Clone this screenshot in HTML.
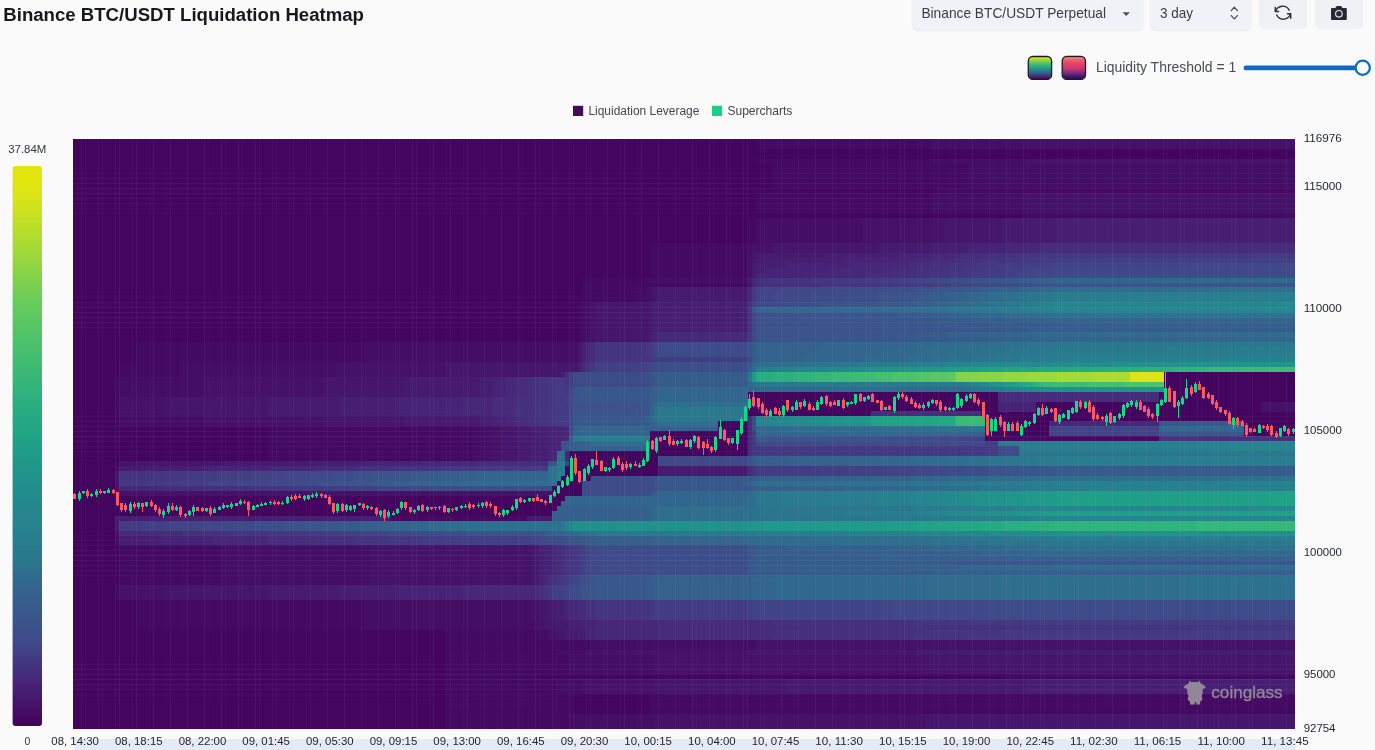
<!DOCTYPE html>
<html><head><meta charset="utf-8"><title>Binance BTC/USDT Liquidation Heatmap</title>
<style>html,body{margin:0;padding:0;background:#fafafa;overflow:hidden}svg{display:block;font-family:"Liberation Sans",sans-serif}text{opacity:0.995}</style></head><body>
<svg width="1375" height="750" viewBox="0 0 1375 750">
<rect width="1375" height="750" fill="#fafafa"/>
<defs>
<linearGradient id="cb" x1="0" y1="1" x2="0" y2="0">
<stop offset="0" stop-color="#44015b"/>
<stop offset="0.08" stop-color="#462678"/>
<stop offset="0.15" stop-color="#3f4a89"/>
<stop offset="0.24" stop-color="#34628d"/>
<stop offset="0.3" stop-color="#2a788e"/>
<stop offset="0.44" stop-color="#21918c"/>
<stop offset="0.51" stop-color="#20a187"/>
<stop offset="0.57" stop-color="#27ad81"/>
<stop offset="0.69" stop-color="#4ec36a"/>
<stop offset="0.76" stop-color="#69cc5b"/>
<stop offset="0.86" stop-color="#a9db33"/>
<stop offset="0.95" stop-color="#dde416"/>
<stop offset="0.97" stop-color="#e3e60e"/>
<stop offset="1" stop-color="#e3e60e"/>
</linearGradient>
<linearGradient id="sw1" x1="0" y1="0" x2="0" y2="1"><stop offset="0" stop-color="#f0ee22"/><stop offset="0.13" stop-color="#a5db36"/><stop offset="0.32" stop-color="#46c06f"/><stop offset="0.52" stop-color="#1f9a8a"/><stop offset="0.7" stop-color="#31688e"/><stop offset="0.86" stop-color="#472d7b"/><stop offset="1" stop-color="#440154"/></linearGradient>
<linearGradient id="sw2" x1="0" y1="0" x2="0" y2="1"><stop offset="0" stop-color="#f2d9a6"/><stop offset="0.1" stop-color="#ee6c6c"/><stop offset="0.3" stop-color="#e8436b"/><stop offset="0.52" stop-color="#c9386e"/><stop offset="0.72" stop-color="#7a2a80"/><stop offset="0.87" stop-color="#3d1a6a"/><stop offset="1" stop-color="#2a0a4a"/></linearGradient>
<filter id="sh" x="-5%" y="-20%" width="110%" height="150%"><feDropShadow dx="0" dy="1" stdDeviation="1" flood-color="#000" flood-opacity="0.12"/></filter>
</defs>
<text x="3.3" y="21" font-size="19.2" font-weight="700" fill="#16181d" textLength="360.7" lengthAdjust="spacingAndGlyphs">Binance BTC/USDT Liquidation Heatmap</text>
<rect x="913" y="-8" width="229.5" height="37.2" rx="5" fill="#eff2f7" filter="url(#sh)"/>
<text x="921.4" y="18.3" font-size="14.2" fill="#3a3d45" textLength="184.6" lengthAdjust="spacingAndGlyphs">Binance BTC/USDT Perpetual</text>
<path d="M1122.6 12.2h7.2l-3.6 3.8z" fill="#4a4d55"/>
<rect x="1151" y="-8" width="99.6" height="37.2" rx="5" fill="#eff2f7" filter="url(#sh)"/>
<text x="1160" y="18.3" font-size="14.2" fill="#3a3d45" textLength="33" lengthAdjust="spacingAndGlyphs">3 day</text>
<path d="M1231.2 10.6l3.1-3.3l3.1 3.3M1231.2 15.6l3.1 3.3l3.1-3.3" fill="none" stroke="#4a4d55" stroke-width="1.3" stroke-linecap="round" stroke-linejoin="round"/>
<rect x="1259.2" y="-8" width="47.6" height="37.2" rx="5" fill="#eff1f5"/>
<g fill="none" stroke="#2b2e36" stroke-width="1.45" stroke-linecap="round" stroke-linejoin="round"><path d="M1275.6 11.4a7.3 7.3 0 0 1 13.6-1.1"/><path d="M1290.4 13.9a7.3 7.3 0 0 1-13.6 1.1"/><path d="M1275.3 7.4v4.1h3.3"/><path d="M1287.5 13.8h3.2v4.4"/></g>
<rect x="1315.2" y="-8" width="47.6" height="37.2" rx="5" fill="#eff1f5"/>
<path d="M1332 8h3.3l0.9-1.4a1 1 0 0 1 0.8-0.5h3.800a1 1 0 0 1 0.800 0.500l0.900 1.400h3.300a1 1 0 0 1 1 1v9.900a1 1 0 0 1-1 1h-13.800a1 1 0 0 1-1-1v-9.900a1 1 0 0 1 1-1z" fill="#262931"/>
<circle cx="1338.9" cy="13.8" r="3.3" fill="none" stroke="#e9ebf2" stroke-width="1.1"/>
<rect x="1028.3" y="56.5" width="23.3" height="22.9" rx="4.5" fill="url(#sw1)" stroke="#1b1b22" stroke-width="1.3"/>
<rect x="1062.2" y="56.5" width="23.3" height="22.9" rx="4.5" fill="url(#sw2)" stroke="#1b1b22" stroke-width="1.3"/>
<text x="1095.9" y="72.3" font-size="14.2" fill="#494c55" textLength="140.3" lengthAdjust="spacingAndGlyphs">Liquidity Threshold = 1</text>
<rect x="1243.5" y="65.6" width="120" height="4.6" rx="2.3" fill="#0f68c4"/>
<circle cx="1362.7" cy="67.8" r="7.1" fill="#fff" stroke="#0f68c4" stroke-width="2.2"/>
<rect x="573" y="105.8" width="10.2" height="10.2" fill="#440b5c"/>
<text x="588.4" y="115.2" font-size="12.3" fill="#44474f" textLength="111" lengthAdjust="spacingAndGlyphs">Liquidation Leverage</text>
<rect x="712" y="105.8" width="10.2" height="10.2" fill="#1fce86"/>
<text x="727.4" y="115.2" font-size="12.3" fill="#44474f" textLength="65" lengthAdjust="spacingAndGlyphs">Supercharts</text>
<text x="8.2" y="153.2" font-size="11.3" fill="#33363d" textLength="38.2" lengthAdjust="spacingAndGlyphs">37.84M</text>
<rect x="12.6" y="166" width="29.4" height="560" rx="3" fill="url(#cb)"/>
<text x="24.4" y="745" font-size="11.3" fill="#33363d" textLength="5.8" lengthAdjust="spacingAndGlyphs">0</text>
<rect x="74.5" y="739" width="1221" height="12" fill="#e6eaf7"/>
<g shape-rendering="crispEdges">
<rect x="72.7" y="138.7" width="1222.5" height="590.2" fill="#44045e"/>
<path fill="#44055e" d="M72.7 138.7h683.46v5.01h-683.46zM72.7 143.66h683.46v5.01h-683.46zM72.7 148.62h1222.55v5.01h-1222.55zM72.7 153.58h1222.55v5.01h-1222.55zM72.7 158.54h683.46v5.01h-683.46zM72.7 163.5h700.44v5.01h-700.44zM72.7 168.46h700.44v5.01h-700.44zM72.7 173.42h700.44v5.01h-700.44zM72.7 178.38h700.44v5.01h-700.44zM72.7 183.34h700.44v5.01h-700.44zM72.7 188.3h865.99v5.01h-865.99zM72.7 193.26h683.46v5.01h-683.46zM72.7 198.22h683.46v5.01h-683.46zM72.7 203.18h683.46v5.01h-683.46zM72.7 208.14h683.46v5.01h-683.46zM72.7 213.09h950.88v5.01h-950.88zM72.7 218.05h674.97v5.01h-674.97zM72.7 223.01h674.97v5.01h-674.97zM72.7 227.97h674.97v5.01h-674.97zM72.7 232.93h674.97v5.01h-674.97zM72.7 237.89h674.97v5.01h-674.97zM72.7 242.85h577.34v5.01h-577.34zM72.7 247.81h577.34v5.01h-577.34zM72.7 252.77h577.34v5.01h-577.34zM72.7 257.73h577.34v5.01h-577.34zM72.7 262.69h577.34v5.01h-577.34zM72.7 267.65h577.34v5.01h-577.34zM72.7 272.61h577.34v5.01h-577.34zM72.7 277.57h509.43v5.01h-509.43zM72.7 282.53h509.43v5.01h-509.43zM72.7 287.49h509.43v5.01h-509.43zM72.7 292.45h509.43v5.01h-509.43zM72.7 297.41h509.43v5.01h-509.43zM72.7 302.37h505.18v5.01h-505.18zM72.7 307.33h505.18v5.01h-505.18zM72.7 312.29h505.18v5.01h-505.18zM72.7 317.25h505.18v5.01h-505.18zM72.7 322.21h505.18v5.01h-505.18zM72.7 327.17h505.18v5.01h-505.18zM72.7 332.13h505.18v5.01h-505.18zM72.7 337.09h505.18v5.01h-505.18zM72.7 342.05h63.72v5.01h-63.72zM72.7 347.01h63.72v5.01h-63.72zM72.7 351.97h63.72v5.01h-63.72zM72.7 356.93h63.72v5.01h-63.72zM72.7 361.88h46.74v5.01h-46.74zM72.7 366.84h46.74v5.01h-46.74zM72.7 371.8h46.74v5.01h-46.74zM1163.61 371.8h131.64v5.01h-131.64zM72.7 376.76h42.5v5.01h-42.5zM1163.61 376.76h131.64v5.01h-131.64zM72.7 381.72h42.5v5.01h-42.5zM1163.61 381.72h131.64v5.01h-131.64zM72.7 386.68h42.5v5.01h-42.5zM1163.61 386.68h131.64v5.01h-131.64zM72.7 391.64h42.5v5.01h-42.5zM747.62 391.64h250.49v5.01h-250.49zM1159.37 391.64h135.88v5.01h-135.88zM72.7 396.6h42.5v5.01h-42.5zM747.62 396.6h250.49v5.01h-250.49zM1159.37 396.6h135.88v5.01h-135.88zM72.7 401.56h42.5v5.01h-42.5zM747.62 401.56h250.49v5.01h-250.49zM1036.27 401.56h225.02v5.01h-225.02zM72.7 406.52h42.5v5.01h-42.5zM747.62 406.52h250.49v5.01h-250.49zM1036.27 406.52h225.02v5.01h-225.02zM72.7 411.48h42.5v5.01h-42.5zM747.62 411.48h123.15v5.01h-123.15zM981.09 411.48h314.16v5.01h-314.16zM72.7 416.44h42.5v5.01h-42.5zM985.33 416.44h309.92v5.01h-309.92zM72.7 421.4h42.5v5.01h-42.5zM717.91 421.4h29.76v5.01h-29.76zM985.33 421.4h63.72v5.01h-63.72zM1244.26 421.4h50.99v5.01h-50.99zM72.7 426.36h195.31v5.01h-195.31zM717.91 426.36h29.76v5.01h-29.76zM985.33 426.36h63.72v5.01h-63.72zM1244.26 426.36h50.99v5.01h-50.99zM72.7 431.32h195.31v5.01h-195.31zM649.99 431.32h97.68v5.01h-97.68zM985.33 431.32h63.72v5.01h-63.72zM1244.26 431.32h50.99v5.01h-50.99zM72.7 436.28h195.31v5.01h-195.31zM649.99 436.28h97.68v5.01h-97.68zM72.7 441.24h195.31v5.01h-195.31zM649.99 441.24h97.68v5.01h-97.68zM72.7 446.2h195.31v5.01h-195.31zM649.99 446.2h97.68v5.01h-97.68zM72.7 451.16h195.31v5.01h-195.31zM569.34 451.16h178.33v5.01h-178.33zM72.7 456.12h195.31v5.01h-195.31zM569.34 456.12h89.19v5.01h-89.19zM72.7 461.08h42.5v5.01h-42.5zM569.34 461.08h89.19v5.01h-89.19zM72.7 466.04h42.5v5.01h-42.5zM565.1 466.04h93.44v5.01h-93.44zM72.7 471h42.5v5.01h-42.5zM565.1 471h93.44v5.01h-93.44zM72.7 475.96h42.5v5.01h-42.5zM560.85 475.96h29.76v5.01h-29.76zM72.7 480.92h42.5v5.01h-42.5zM556.61 480.92h25.52v5.01h-25.52zM72.7 485.88h42.5v5.01h-42.5zM552.36 485.88h29.76v5.01h-29.76zM72.7 490.84h42.5v5.01h-42.5zM552.36 490.84h29.76v5.01h-29.76zM72.7 495.8h492.45v5.01h-492.45zM72.7 500.76h488.2v5.01h-488.2zM72.7 505.72h483.96v5.01h-483.96zM72.7 510.67h479.71v5.01h-479.71zM72.7 515.63h42.5v5.01h-42.5zM72.7 520.59h42.5v5.01h-42.5zM72.7 525.55h42.5v5.01h-42.5zM72.7 530.51h42.5v5.01h-42.5zM72.7 535.47h42.5v5.01h-42.5zM72.7 540.43h42.5v5.01h-42.5zM72.7 545.39h46.74v5.01h-46.74zM72.7 550.35h46.74v5.01h-46.74zM72.7 555.31h46.74v5.01h-46.74zM72.7 560.27h46.74v5.01h-46.74zM72.7 565.23h46.74v5.01h-46.74zM72.7 570.19h46.74v5.01h-46.74zM72.7 575.15h46.74v5.01h-46.74zM72.7 580.11h46.74v5.01h-46.74zM72.7 585.07h42.5v5.01h-42.5zM72.7 590.03h42.5v5.01h-42.5zM72.7 594.99h42.5v5.01h-42.5zM72.7 599.95h63.72v5.01h-63.72zM72.7 604.91h63.72v5.01h-63.72zM72.7 609.87h63.72v5.01h-63.72zM72.7 614.83h63.72v5.01h-63.72zM72.7 619.79h63.72v5.01h-63.72zM72.7 624.75h63.72v5.01h-63.72zM72.7 629.71h373.59v5.01h-373.59zM72.7 634.67h373.59v5.01h-373.59zM72.7 639.63h373.59v5.01h-373.59zM72.7 644.59h373.59v5.01h-373.59zM72.7 649.55h373.59v5.01h-373.59zM72.7 654.51h373.59v5.01h-373.59zM72.7 659.46h373.59v5.01h-373.59zM72.7 664.42h373.59v5.01h-373.59zM72.7 669.38h373.59v5.01h-373.59zM72.7 674.34h373.59v5.01h-373.59zM539.63 674.34h466.98v5.01h-466.98zM72.7 679.3h373.59v5.01h-373.59zM72.7 684.26h373.59v5.01h-373.59zM72.7 689.22h373.59v5.01h-373.59zM72.7 694.18h373.59v5.01h-373.59zM573.59 694.18h76.46v5.01h-76.46zM72.7 699.14h373.59v5.01h-373.59zM573.59 699.14h76.46v5.01h-76.46zM72.7 704.1h373.59v5.01h-373.59zM573.59 704.1h76.46v5.01h-76.46zM72.7 709.06h373.59v5.01h-373.59zM573.59 709.06h76.46v5.01h-76.46zM72.7 714.02h373.59v5.01h-373.59zM72.7 718.98h373.59v5.01h-373.59zM72.7 723.94h373.59v5.01h-373.59z"/>
<path fill="#440a62" d="M756.11 138.7h174.09v5.01h-174.09zM756.11 143.66h174.09v5.01h-174.09zM756.11 158.54h174.09v5.01h-174.09zM773.09 163.5h195.31v5.01h-195.31zM773.09 168.46h195.31v5.01h-195.31zM773.09 173.42h195.31v5.01h-195.31zM773.09 178.38h195.31v5.01h-195.31zM773.09 183.34h195.31v5.01h-195.31zM938.64 188.3h356.61v5.01h-356.61zM756.11 193.26h174.09v5.01h-174.09zM756.11 198.22h174.09v5.01h-174.09zM756.11 203.18h174.09v5.01h-174.09zM756.11 208.14h174.09v5.01h-174.09zM1023.53 213.09h271.72v5.01h-271.72zM747.62 218.05h8.54v5.01h-8.54zM747.62 223.01h8.54v5.01h-8.54zM747.62 227.97h8.54v5.01h-8.54zM747.62 232.93h8.54v5.01h-8.54zM747.62 237.89h8.54v5.01h-8.54zM649.99 242.85h97.68v5.01h-97.68zM649.99 247.81h97.68v5.01h-97.68zM649.99 252.77h97.68v5.01h-97.68zM649.99 257.73h97.68v5.01h-97.68zM649.99 262.69h97.68v5.01h-97.68zM649.99 267.65h97.68v5.01h-97.68zM649.99 272.61h97.68v5.01h-97.68zM582.08 277.57h63.72v5.01h-63.72zM582.08 282.53h165.6v5.01h-165.6zM582.08 287.49h63.72v5.01h-63.72zM582.08 292.45h63.72v5.01h-63.72zM582.08 297.41h63.72v5.01h-63.72zM577.83 302.37h4.29v5.01h-4.29zM577.83 307.33h4.29v5.01h-4.29zM577.83 312.29h4.29v5.01h-4.29zM577.83 317.25h4.29v5.01h-4.29zM577.83 322.21h4.29v5.01h-4.29zM577.83 327.17h4.29v5.01h-4.29zM577.83 332.13h4.29v5.01h-4.29zM577.83 337.09h4.29v5.01h-4.29zM136.37 342.05h229.27v5.01h-229.27zM136.37 347.01h229.27v5.01h-229.27zM136.37 351.97h229.27v5.01h-229.27zM136.37 356.93h229.27v5.01h-229.27zM119.39 361.88h59.48v5.01h-59.48zM119.39 366.84h59.48v5.01h-59.48zM119.39 371.8h59.48v5.01h-59.48zM115.15 376.76h4.29v5.01h-4.29zM115.15 381.72h4.29v5.01h-4.29zM115.15 386.68h4.29v5.01h-4.29zM115.15 391.64h4.29v5.01h-4.29zM115.15 396.6h4.29v5.01h-4.29zM115.15 401.56h4.29v5.01h-4.29zM115.15 406.52h4.29v5.01h-4.29zM115.15 411.48h4.29v5.01h-4.29zM115.15 416.44h4.29v5.01h-4.29zM115.15 421.4h4.29v5.01h-4.29zM267.96 426.36h203.8v5.01h-203.8zM267.96 431.32h203.8v5.01h-203.8zM267.96 436.28h203.8v5.01h-203.8zM985.33 436.28h174.09v5.01h-174.09zM267.96 441.24h203.8v5.01h-203.8zM267.96 446.2h203.8v5.01h-203.8zM267.96 451.16h203.8v5.01h-203.8zM267.96 456.12h203.8v5.01h-203.8zM115.15 461.08h4.29v5.01h-4.29zM391.06 515.63h135.88v5.01h-135.88zM119.39 545.39h101.92v5.01h-101.92zM119.39 550.35h101.92v5.01h-101.92zM119.39 555.31h101.92v5.01h-101.92zM119.39 560.27h101.92v5.01h-101.92zM119.39 565.23h101.92v5.01h-101.92zM119.39 570.19h101.92v5.01h-101.92zM119.39 575.15h101.92v5.01h-101.92zM119.39 580.11h101.92v5.01h-101.92zM115.15 585.07h4.29v5.01h-4.29zM115.15 590.03h4.29v5.01h-4.29zM115.15 594.99h4.29v5.01h-4.29zM136.37 599.95h229.27v5.01h-229.27zM136.37 604.91h229.27v5.01h-229.27zM136.37 609.87h229.27v5.01h-229.27zM136.37 614.83h229.27v5.01h-229.27zM136.37 619.79h229.27v5.01h-229.27zM136.37 624.75h229.27v5.01h-229.27zM446.24 629.71h93.44v5.01h-93.44zM446.24 634.67h93.44v5.01h-93.44zM446.24 639.63h144.37v5.01h-144.37zM446.24 644.59h144.37v5.01h-144.37zM446.24 649.55h110.41v5.01h-110.41zM446.24 654.51h123.15v5.01h-123.15zM446.24 659.46h123.15v5.01h-123.15zM446.24 664.42h123.15v5.01h-123.15zM446.24 669.38h123.15v5.01h-123.15zM446.24 674.34h93.44v5.01h-93.44zM1006.55 674.34h288.7v5.01h-288.7zM446.24 679.3h110.41v5.01h-110.41zM446.24 684.26h110.41v5.01h-110.41zM446.24 689.22h110.41v5.01h-110.41zM446.24 694.18h127.39v5.01h-127.39zM649.99 694.18h645.26v5.01h-645.26zM446.24 699.14h127.39v5.01h-127.39zM649.99 699.14h645.26v5.01h-645.26zM446.24 704.1h127.39v5.01h-127.39zM649.99 704.1h645.26v5.01h-645.26zM446.24 709.06h127.39v5.01h-127.39zM649.99 709.06h645.26v5.01h-645.26zM446.24 714.02h123.15v5.01h-123.15zM446.24 718.98h123.15v5.01h-123.15zM446.24 723.94h123.15v5.01h-123.15z"/>
<path fill="#450e65" d="M930.15 138.7h93.44v5.01h-93.44zM930.15 143.66h93.44v5.01h-93.44zM930.15 158.54h93.44v5.01h-93.44zM968.35 163.5h326.9v5.01h-326.9zM968.35 168.46h326.9v5.01h-326.9zM968.35 173.42h326.9v5.01h-326.9zM968.35 178.38h326.9v5.01h-326.9zM968.35 183.34h326.9v5.01h-326.9zM930.15 193.26h93.44v5.01h-93.44zM930.15 198.22h93.44v5.01h-93.44zM930.15 203.18h93.44v5.01h-93.44zM930.15 208.14h93.44v5.01h-93.44zM756.11 218.05h106.17v5.01h-106.17zM756.11 223.01h106.17v5.01h-106.17zM756.11 227.97h106.17v5.01h-106.17zM756.11 232.93h106.17v5.01h-106.17zM756.11 237.89h106.17v5.01h-106.17zM747.62 242.85h4.29v5.01h-4.29zM747.62 247.81h4.29v5.01h-4.29zM645.75 277.57h101.92v5.01h-101.92zM645.75 287.49h4.29v5.01h-4.29zM645.75 292.45h4.29v5.01h-4.29zM645.75 297.41h4.29v5.01h-4.29zM582.08 302.37h8.54v5.01h-8.54zM582.08 307.33h8.54v5.01h-8.54zM582.08 312.29h8.54v5.01h-8.54zM582.08 317.25h8.54v5.01h-8.54zM582.08 322.21h8.54v5.01h-8.54zM582.08 327.17h8.54v5.01h-8.54zM582.08 332.13h8.54v5.01h-8.54zM582.08 337.09h8.54v5.01h-8.54zM365.59 342.05h212.29v5.01h-212.29zM365.59 347.01h212.29v5.01h-212.29zM365.59 351.97h212.29v5.01h-212.29zM365.59 356.93h212.29v5.01h-212.29zM178.82 361.88h157.11v5.01h-157.11zM178.82 366.84h157.11v5.01h-157.11zM178.82 371.8h157.11v5.01h-157.11zM119.39 376.76h84.95v5.01h-84.95zM119.39 381.72h84.95v5.01h-84.95zM119.39 386.68h84.95v5.01h-84.95zM119.39 391.64h84.95v5.01h-84.95zM119.39 416.44h84.95v5.01h-84.95zM119.39 421.4h84.95v5.01h-84.95zM471.71 426.36h17.03v5.01h-17.03zM471.71 431.32h17.03v5.01h-17.03zM471.71 436.28h17.03v5.01h-17.03zM471.71 441.24h17.03v5.01h-17.03zM471.71 446.2h17.03v5.01h-17.03zM471.71 451.16h17.03v5.01h-17.03zM471.71 456.12h17.03v5.01h-17.03zM115.15 466.04h4.29v5.01h-4.29zM115.15 535.47h4.29v5.01h-4.29zM115.15 540.43h4.29v5.01h-4.29zM221.27 545.39h148.62v5.01h-148.62zM221.27 550.35h148.62v5.01h-148.62zM221.27 555.31h148.62v5.01h-148.62zM221.27 560.27h148.62v5.01h-148.62zM221.27 565.23h148.62v5.01h-148.62zM221.27 570.19h148.62v5.01h-148.62zM221.27 575.15h148.62v5.01h-148.62zM221.27 580.11h148.62v5.01h-148.62zM365.59 599.95h165.6v5.01h-165.6zM365.59 604.91h165.6v5.01h-165.6zM365.59 609.87h165.6v5.01h-165.6zM365.59 614.83h165.6v5.01h-165.6zM365.59 619.79h169.84v5.01h-169.84zM365.59 624.75h169.84v5.01h-169.84zM539.63 629.71h8.54v5.01h-8.54zM539.63 634.67h8.54v5.01h-8.54zM590.56 639.63h165.6v5.01h-165.6zM590.56 644.59h165.6v5.01h-165.6zM556.61 649.55h29.76v5.01h-29.76zM569.34 654.51h84.95v5.01h-84.95zM569.34 659.46h84.95v5.01h-84.95zM569.34 664.42h84.95v5.01h-84.95zM569.34 669.38h84.95v5.01h-84.95zM556.61 679.3h25.52v5.01h-25.52zM556.61 684.26h25.52v5.01h-25.52zM556.61 689.22h25.52v5.01h-25.52zM569.34 714.02h84.95v5.01h-84.95zM569.34 718.98h84.95v5.01h-84.95zM569.34 723.94h84.95v5.01h-84.95z"/>
<path fill="#451268" d="M1023.53 138.7h271.72v5.01h-271.72zM1023.53 143.66h271.72v5.01h-271.72zM1023.53 158.54h271.72v5.01h-271.72zM1023.53 193.26h271.72v5.01h-271.72zM1023.53 198.22h271.72v5.01h-271.72zM1023.53 203.18h271.72v5.01h-271.72zM1023.53 208.14h271.72v5.01h-271.72zM862.23 218.05h80.7v5.01h-80.7zM862.23 223.01h80.7v5.01h-80.7zM862.23 227.97h80.7v5.01h-80.7zM862.23 232.93h80.7v5.01h-80.7zM862.23 237.89h80.7v5.01h-80.7zM751.87 242.85h21.27v5.01h-21.27zM751.87 247.81h21.27v5.01h-21.27zM747.62 252.77h4.29v5.01h-4.29zM747.62 257.73h4.29v5.01h-4.29zM747.62 262.69h4.29v5.01h-4.29zM747.62 267.65h4.29v5.01h-4.29zM747.62 272.61h4.29v5.01h-4.29zM649.99 287.49h4.29v5.01h-4.29zM649.99 292.45h4.29v5.01h-4.29zM649.99 297.41h4.29v5.01h-4.29zM590.56 302.37h4.29v5.01h-4.29zM590.56 307.33h4.29v5.01h-4.29zM590.56 312.29h4.29v5.01h-4.29zM590.56 317.25h4.29v5.01h-4.29zM590.56 322.21h4.29v5.01h-4.29zM590.56 327.17h4.29v5.01h-4.29zM590.56 332.13h4.29v5.01h-4.29zM590.56 337.09h4.29v5.01h-4.29zM335.88 361.88h110.41v5.01h-110.41zM335.88 366.84h110.41v5.01h-110.41zM335.88 371.8h110.41v5.01h-110.41zM204.29 376.76h118.9v5.01h-118.9zM204.29 381.72h118.9v5.01h-118.9zM204.29 386.68h118.9v5.01h-118.9zM204.29 391.64h118.9v5.01h-118.9zM119.39 396.6h50.99v5.01h-50.99zM119.39 401.56h50.99v5.01h-50.99zM1261.24 401.56h34.01v5.01h-34.01zM119.39 406.52h50.99v5.01h-50.99zM1261.24 406.52h34.01v5.01h-34.01zM119.39 411.48h50.99v5.01h-50.99zM204.29 416.44h118.9v5.01h-118.9zM204.29 421.4h118.9v5.01h-118.9zM488.69 426.36h12.78v5.01h-12.78zM488.69 431.32h12.78v5.01h-12.78zM488.69 436.28h12.78v5.01h-12.78zM488.69 441.24h12.78v5.01h-12.78zM488.69 446.2h12.78v5.01h-12.78zM488.69 451.16h12.78v5.01h-12.78zM488.69 456.12h12.78v5.01h-12.78zM119.39 461.08h17.03v5.01h-17.03zM115.15 485.88h4.29v5.01h-4.29zM115.15 490.84h437.26v5.01h-437.26zM115.15 530.51h4.29v5.01h-4.29zM369.84 545.39h161.35v5.01h-161.35zM369.84 550.35h161.35v5.01h-161.35zM369.84 555.31h161.35v5.01h-161.35zM369.84 560.27h161.35v5.01h-161.35zM369.84 565.23h161.35v5.01h-161.35zM369.84 570.19h161.35v5.01h-161.35zM369.84 575.15h161.35v5.01h-161.35zM369.84 580.11h161.35v5.01h-161.35zM119.39 585.07h50.99v5.01h-50.99zM119.39 590.03h50.99v5.01h-50.99zM119.39 594.99h50.99v5.01h-50.99zM531.14 599.95h8.54v5.01h-8.54zM531.14 604.91h8.54v5.01h-8.54zM531.14 609.87h8.54v5.01h-8.54zM531.14 614.83h8.54v5.01h-8.54zM535.38 619.79h8.54v5.01h-8.54zM535.38 624.75h8.54v5.01h-8.54zM548.12 629.71h8.54v5.01h-8.54zM548.12 634.67h8.54v5.01h-8.54zM756.11 639.63h539.14v5.01h-539.14zM756.11 644.59h539.14v5.01h-539.14zM586.32 649.55h161.35v5.01h-161.35zM654.24 654.51h271.72v5.01h-271.72zM654.24 659.46h271.72v5.01h-271.72zM654.24 664.42h271.72v5.01h-271.72zM654.24 669.38h271.72v5.01h-271.72zM582.08 679.3h72.21v5.01h-72.21zM582.08 684.26h72.21v5.01h-72.21zM582.08 689.22h72.21v5.01h-72.21zM654.24 714.02h271.72v5.01h-271.72zM654.24 718.98h271.72v5.01h-271.72zM654.24 723.94h271.72v5.01h-271.72z"/>
<path fill="#45166c" d="M942.88 218.05h59.48v5.01h-59.48zM942.88 223.01h59.48v5.01h-59.48zM942.88 227.97h59.48v5.01h-59.48zM942.88 232.93h59.48v5.01h-59.48zM942.88 237.89h59.48v5.01h-59.48zM773.09 242.85h106.17v5.01h-106.17zM773.09 247.81h106.17v5.01h-106.17zM751.87 252.77h4.29v5.01h-4.29zM751.87 257.73h4.29v5.01h-4.29zM747.62 282.53h4.29v5.01h-4.29zM654.24 287.49h4.29v5.01h-4.29zM654.24 292.45h4.29v5.01h-4.29zM654.24 297.41h4.29v5.01h-4.29zM594.81 302.37h55.23v5.01h-55.23zM594.81 307.33h55.23v5.01h-55.23zM594.81 312.29h55.23v5.01h-55.23zM594.81 317.25h55.23v5.01h-55.23zM594.81 322.21h55.23v5.01h-55.23zM594.81 327.17h55.23v5.01h-55.23zM594.81 332.13h55.23v5.01h-55.23zM594.81 337.09h55.23v5.01h-55.23zM577.83 342.05h4.29v5.01h-4.29zM577.83 347.01h4.29v5.01h-4.29zM577.83 351.97h4.29v5.01h-4.29zM577.83 356.93h4.29v5.01h-4.29zM446.24 361.88h131.64v5.01h-131.64zM446.24 366.84h131.64v5.01h-131.64zM446.24 371.8h114.66v5.01h-114.66zM323.14 376.76h80.7v5.01h-80.7zM323.14 381.72h80.7v5.01h-80.7zM323.14 386.68h80.7v5.01h-80.7zM323.14 391.64h80.7v5.01h-80.7zM170.33 396.6h97.68v5.01h-97.68zM170.33 401.56h97.68v5.01h-97.68zM170.33 406.52h97.68v5.01h-97.68zM170.33 411.48h97.68v5.01h-97.68zM323.14 416.44h80.7v5.01h-80.7zM323.14 421.4h80.7v5.01h-80.7zM501.42 426.36h17.03v5.01h-17.03zM501.42 431.32h17.03v5.01h-17.03zM501.42 436.28h17.03v5.01h-17.03zM501.42 441.24h17.03v5.01h-17.03zM501.42 446.2h17.03v5.01h-17.03zM501.42 451.16h17.03v5.01h-17.03zM501.42 456.12h17.03v5.01h-17.03zM136.37 461.08h89.19v5.01h-89.19zM115.15 471h4.29v5.01h-4.29zM115.15 475.96h4.29v5.01h-4.29zM115.15 480.92h4.29v5.01h-4.29zM531.14 545.39h4.29v5.01h-4.29zM531.14 550.35h4.29v5.01h-4.29zM531.14 555.31h4.29v5.01h-4.29zM531.14 560.27h4.29v5.01h-4.29zM531.14 565.23h4.29v5.01h-4.29zM531.14 570.19h4.29v5.01h-4.29zM531.14 575.15h4.29v5.01h-4.29zM531.14 580.11h4.29v5.01h-4.29zM170.33 585.07h97.68v5.01h-97.68zM170.33 590.03h97.68v5.01h-97.68zM170.33 594.99h97.68v5.01h-97.68zM539.63 599.95h8.54v5.01h-8.54zM539.63 604.91h8.54v5.01h-8.54zM539.63 609.87h8.54v5.01h-8.54zM539.63 614.83h8.54v5.01h-8.54zM543.87 619.79h12.78v5.01h-12.78zM543.87 624.75h12.78v5.01h-12.78zM556.61 629.71h8.54v5.01h-8.54zM556.61 634.67h8.54v5.01h-8.54zM747.62 649.55h169.84v5.01h-169.84zM925.9 654.51h369.35v5.01h-369.35zM925.9 659.46h369.35v5.01h-369.35zM925.9 664.42h369.35v5.01h-369.35zM925.9 669.38h369.35v5.01h-369.35zM654.24 679.3h131.64v5.01h-131.64zM654.24 684.26h131.64v5.01h-131.64zM654.24 689.22h131.64v5.01h-131.64zM925.9 714.02h369.35v5.01h-369.35zM925.9 718.98h369.35v5.01h-369.35zM925.9 723.94h369.35v5.01h-369.35z"/>
<path fill="#461a6f" d="M1002.31 218.05h55.23v5.01h-55.23zM1002.31 223.01h55.23v5.01h-55.23zM1002.31 227.97h55.23v5.01h-55.23zM1002.31 232.93h55.23v5.01h-55.23zM1002.31 237.89h55.23v5.01h-55.23zM879.21 242.85h50.99v5.01h-50.99zM879.21 247.81h50.99v5.01h-50.99zM756.11 252.77h67.97v5.01h-67.97zM756.11 257.73h8.54v5.01h-8.54zM751.87 262.69h4.29v5.01h-4.29zM751.87 267.65h4.29v5.01h-4.29zM751.87 272.61h4.29v5.01h-4.29zM747.62 277.57h4.29v5.01h-4.29zM658.48 287.49h89.19v5.01h-89.19zM658.48 292.45h89.19v5.01h-89.19zM658.48 297.41h89.19v5.01h-89.19zM649.99 302.37h4.29v5.01h-4.29zM649.99 307.33h4.29v5.01h-4.29zM649.99 312.29h4.29v5.01h-4.29zM649.99 317.25h4.29v5.01h-4.29zM649.99 322.21h4.29v5.01h-4.29zM649.99 327.17h4.29v5.01h-4.29zM403.79 376.76h76.46v5.01h-76.46zM403.79 381.72h76.46v5.01h-76.46zM403.79 386.68h76.46v5.01h-76.46zM403.79 391.64h76.46v5.01h-76.46zM267.96 396.6h72.21v5.01h-72.21zM267.96 401.56h72.21v5.01h-72.21zM267.96 406.52h72.21v5.01h-72.21zM267.96 411.48h72.21v5.01h-72.21zM403.79 416.44h76.46v5.01h-76.46zM403.79 421.4h76.46v5.01h-76.46zM518.4 426.36h12.78v5.01h-12.78zM518.4 431.32h12.78v5.01h-12.78zM518.4 436.28h12.78v5.01h-12.78zM518.4 441.24h12.78v5.01h-12.78zM518.4 446.2h12.78v5.01h-12.78zM518.4 451.16h12.78v5.01h-12.78zM518.4 456.12h12.78v5.01h-12.78zM225.51 461.08h84.95v5.01h-84.95zM119.39 466.04h21.27v5.01h-21.27zM658.48 466.04h89.19v5.01h-89.19zM658.48 471h89.19v5.01h-89.19zM526.89 515.63h25.52v5.01h-25.52zM115.15 520.59h4.29v5.01h-4.29zM115.15 525.55h4.29v5.01h-4.29zM535.38 545.39h4.29v5.01h-4.29zM535.38 550.35h4.29v5.01h-4.29zM535.38 555.31h4.29v5.01h-4.29zM535.38 560.27h4.29v5.01h-4.29zM535.38 565.23h4.29v5.01h-4.29zM535.38 570.19h4.29v5.01h-4.29zM535.38 575.15h4.29v5.01h-4.29zM535.38 580.11h4.29v5.01h-4.29zM267.96 585.07h72.21v5.01h-72.21zM267.96 590.03h72.21v5.01h-72.21zM267.96 594.99h72.21v5.01h-72.21zM548.12 599.95h8.54v5.01h-8.54zM548.12 604.91h8.54v5.01h-8.54zM548.12 609.87h8.54v5.01h-8.54zM548.12 614.83h8.54v5.01h-8.54zM556.61 619.79h12.78v5.01h-12.78zM556.61 624.75h12.78v5.01h-12.78zM565.1 629.71h12.78v5.01h-12.78zM565.1 634.67h12.78v5.01h-12.78zM917.41 649.55h377.84v5.01h-377.84zM785.83 679.3h242v5.01h-242zM785.83 684.26h242v5.01h-242zM785.83 689.22h242v5.01h-242z"/>
<path fill="#461f72" d="M1057.49 218.05h237.76v5.01h-237.76zM1057.49 223.01h237.76v5.01h-237.76zM1057.49 227.97h237.76v5.01h-237.76zM1057.49 232.93h237.76v5.01h-237.76zM1057.49 237.89h237.76v5.01h-237.76zM930.15 242.85h38.25v5.01h-38.25zM930.15 247.81h38.25v5.01h-38.25zM824.03 252.77h76.46v5.01h-76.46zM764.6 257.73h76.46v5.01h-76.46zM756.11 262.69h29.76v5.01h-29.76zM756.11 267.65h8.54v5.01h-8.54zM654.24 302.37h93.44v5.01h-93.44zM654.24 307.33h93.44v5.01h-93.44zM654.24 312.29h93.44v5.01h-93.44zM654.24 317.25h93.44v5.01h-93.44zM654.24 322.21h93.44v5.01h-93.44zM654.24 327.17h93.44v5.01h-93.44zM649.99 332.13h4.29v5.01h-4.29zM649.99 337.09h4.29v5.01h-4.29zM582.08 342.05h4.29v5.01h-4.29zM582.08 347.01h4.29v5.01h-4.29zM582.08 351.97h4.29v5.01h-4.29zM582.08 356.93h4.29v5.01h-4.29zM577.83 361.88h4.29v5.01h-4.29zM577.83 366.84h4.29v5.01h-4.29zM560.85 371.8h4.29v5.01h-4.29zM480.2 376.76h12.78v5.01h-12.78zM480.2 381.72h12.78v5.01h-12.78zM480.2 386.68h12.78v5.01h-12.78zM480.2 391.64h12.78v5.01h-12.78zM340.12 396.6h59.48v5.01h-59.48zM340.12 401.56h59.48v5.01h-59.48zM340.12 406.52h59.48v5.01h-59.48zM340.12 411.48h59.48v5.01h-59.48zM480.2 416.44h12.78v5.01h-12.78zM480.2 421.4h12.78v5.01h-12.78zM531.14 426.36h17.03v5.01h-17.03zM531.14 431.32h17.03v5.01h-17.03zM531.14 436.28h17.03v5.01h-17.03zM531.14 441.24h17.03v5.01h-17.03zM531.14 446.2h17.03v5.01h-17.03zM531.14 451.16h17.03v5.01h-17.03zM531.14 456.12h17.03v5.01h-17.03zM310.41 461.08h55.23v5.01h-55.23zM140.62 466.04h63.72v5.01h-63.72zM115.15 515.63h275.96v5.01h-275.96zM119.39 535.47h38.25v5.01h-38.25zM119.39 540.43h38.25v5.01h-38.25zM539.63 545.39h4.29v5.01h-4.29zM539.63 550.35h4.29v5.01h-4.29zM539.63 555.31h4.29v5.01h-4.29zM539.63 560.27h4.29v5.01h-4.29zM539.63 565.23h4.29v5.01h-4.29zM539.63 570.19h4.29v5.01h-4.29zM340.12 585.07h59.48v5.01h-59.48zM340.12 590.03h59.48v5.01h-59.48zM340.12 594.99h59.48v5.01h-59.48zM556.61 599.95h8.54v5.01h-8.54zM556.61 604.91h8.54v5.01h-8.54zM556.61 609.87h8.54v5.01h-8.54zM556.61 614.83h8.54v5.01h-8.54zM569.34 619.79h12.78v5.01h-12.78zM569.34 624.75h12.78v5.01h-12.78zM577.83 629.71h8.54v5.01h-8.54zM577.83 634.67h8.54v5.01h-8.54zM1027.78 679.3h267.47v5.01h-267.47zM1027.78 684.26h267.47v5.01h-267.47zM1027.78 689.22h267.47v5.01h-267.47z"/>
<path fill="#462376" d="M968.35 242.85h38.25v5.01h-38.25zM968.35 247.81h38.25v5.01h-38.25zM900.43 252.77h29.76v5.01h-29.76zM841.01 257.73h63.72v5.01h-63.72zM785.83 262.69h67.97v5.01h-67.97zM764.6 267.65h63.72v5.01h-63.72zM756.11 272.61h46.74v5.01h-46.74zM751.87 282.53h4.29v5.01h-4.29zM654.24 332.13h4.29v5.01h-4.29zM654.24 337.09h4.29v5.01h-4.29zM492.93 376.76h12.78v5.01h-12.78zM492.93 381.72h12.78v5.01h-12.78zM492.93 386.68h12.78v5.01h-12.78zM492.93 391.64h12.78v5.01h-12.78zM399.55 396.6h63.72v5.01h-63.72zM399.55 401.56h63.72v5.01h-63.72zM998.06 401.56h38.25v5.01h-38.25zM399.55 406.52h63.72v5.01h-63.72zM998.06 406.52h38.25v5.01h-38.25zM399.55 411.48h63.72v5.01h-63.72zM492.93 416.44h12.78v5.01h-12.78zM492.93 421.4h12.78v5.01h-12.78zM548.12 426.36h12.78v5.01h-12.78zM548.12 431.32h12.78v5.01h-12.78zM548.12 436.28h12.78v5.01h-12.78zM548.12 441.24h12.78v5.01h-12.78zM548.12 446.2h12.78v5.01h-12.78zM548.12 451.16h8.54v5.01h-8.54zM548.12 456.12h8.54v5.01h-8.54zM365.59 461.08h55.23v5.01h-55.23zM204.29 466.04h63.72v5.01h-63.72zM157.6 535.47h55.23v5.01h-55.23zM157.6 540.43h55.23v5.01h-55.23zM543.87 545.39h8.54v5.01h-8.54zM543.87 550.35h8.54v5.01h-8.54zM543.87 555.31h8.54v5.01h-8.54zM543.87 560.27h8.54v5.01h-8.54zM543.87 565.23h8.54v5.01h-8.54zM543.87 570.19h8.54v5.01h-8.54zM539.63 575.15h4.29v5.01h-4.29zM539.63 580.11h4.29v5.01h-4.29zM399.55 585.07h63.72v5.01h-63.72zM399.55 590.03h63.72v5.01h-63.72zM399.55 594.99h63.72v5.01h-63.72zM565.1 599.95h4.29v5.01h-4.29zM565.1 604.91h4.29v5.01h-4.29zM565.1 609.87h4.29v5.01h-4.29zM565.1 614.83h4.29v5.01h-4.29zM582.08 619.79h12.78v5.01h-12.78zM582.08 624.75h12.78v5.01h-12.78zM586.32 629.71h8.54v5.01h-8.54zM586.32 634.67h8.54v5.01h-8.54z"/>
<path fill="#462778" d="M1006.55 242.85h34.01v5.01h-34.01zM1006.55 247.81h34.01v5.01h-34.01zM930.15 252.77h29.76v5.01h-29.76zM904.68 257.73h25.52v5.01h-25.52zM853.74 262.69h55.23v5.01h-55.23zM828.27 267.65h63.72v5.01h-63.72zM802.8 272.61h63.72v5.01h-63.72zM751.87 277.57h4.29v5.01h-4.29zM747.62 287.49h4.29v5.01h-4.29zM747.62 292.45h4.29v5.01h-4.29zM747.62 297.41h4.29v5.01h-4.29zM658.48 332.13h89.19v5.01h-89.19zM658.48 337.09h89.19v5.01h-89.19zM586.32 342.05h4.29v5.01h-4.29zM586.32 347.01h4.29v5.01h-4.29zM586.32 351.97h4.29v5.01h-4.29zM586.32 356.93h4.29v5.01h-4.29zM582.08 361.88h4.29v5.01h-4.29zM582.08 366.84h4.29v5.01h-4.29zM505.67 376.76h8.54v5.01h-8.54zM505.67 381.72h8.54v5.01h-8.54zM505.67 386.68h8.54v5.01h-8.54zM505.67 391.64h8.54v5.01h-8.54zM463.22 396.6h29.76v5.01h-29.76zM463.22 401.56h29.76v5.01h-29.76zM463.22 406.52h29.76v5.01h-29.76zM463.22 411.48h29.76v5.01h-29.76zM505.67 416.44h8.54v5.01h-8.54zM505.67 421.4h8.54v5.01h-8.54zM1049 421.4h110.41v5.01h-110.41zM560.85 426.36h8.54v5.01h-8.54zM560.85 431.32h8.54v5.01h-8.54zM560.85 436.28h8.54v5.01h-8.54zM565.1 451.16h4.29v5.01h-4.29zM565.1 456.12h4.29v5.01h-4.29zM420.77 461.08h55.23v5.01h-55.23zM267.96 466.04h50.99v5.01h-50.99zM119.39 485.88h38.25v5.01h-38.25zM119.39 530.51h21.27v5.01h-21.27zM212.78 535.47h55.23v5.01h-55.23zM212.78 540.43h55.23v5.01h-55.23zM552.36 545.39h4.29v5.01h-4.29zM552.36 550.35h4.29v5.01h-4.29zM552.36 555.31h4.29v5.01h-4.29zM552.36 560.27h4.29v5.01h-4.29zM552.36 565.23h4.29v5.01h-4.29zM552.36 570.19h4.29v5.01h-4.29zM543.87 575.15h4.29v5.01h-4.29zM543.87 580.11h4.29v5.01h-4.29zM463.22 585.07h72.21v5.01h-72.21zM463.22 590.03h72.21v5.01h-72.21zM463.22 594.99h72.21v5.01h-72.21zM569.34 599.95h8.54v5.01h-8.54zM569.34 604.91h8.54v5.01h-8.54zM569.34 609.87h8.54v5.01h-8.54zM569.34 614.83h8.54v5.01h-8.54zM594.81 619.79h63.72v5.01h-63.72zM594.81 624.75h63.72v5.01h-63.72zM594.81 629.71h63.72v5.01h-63.72zM594.81 634.67h63.72v5.01h-63.72z"/>
<path fill="#462c7b" d="M1040.51 242.85h254.74v5.01h-254.74zM1040.51 247.81h254.74v5.01h-254.74zM959.86 252.77h25.52v5.01h-25.52zM930.15 257.73h25.52v5.01h-25.52zM908.92 262.69h21.27v5.01h-21.27zM891.94 267.65h25.52v5.01h-25.52zM866.48 272.61h42.5v5.01h-42.5zM756.11 282.53h8.54v5.01h-8.54zM590.56 342.05h4.29v5.01h-4.29zM590.56 347.01h4.29v5.01h-4.29zM590.56 351.97h4.29v5.01h-4.29zM590.56 356.93h4.29v5.01h-4.29zM514.16 376.76h12.78v5.01h-12.78zM514.16 381.72h12.78v5.01h-12.78zM514.16 386.68h12.78v5.01h-12.78zM514.16 391.64h12.78v5.01h-12.78zM998.06 391.64h161.35v5.01h-161.35zM492.93 396.6h21.27v5.01h-21.27zM998.06 396.6h161.35v5.01h-161.35zM492.93 401.56h21.27v5.01h-21.27zM492.93 406.52h21.27v5.01h-21.27zM492.93 411.48h21.27v5.01h-21.27zM870.72 411.48h110.41v5.01h-110.41zM514.16 416.44h12.78v5.01h-12.78zM747.62 416.44h4.29v5.01h-4.29zM514.16 421.4h12.78v5.01h-12.78zM747.62 421.4h4.29v5.01h-4.29zM747.62 426.36h4.29v5.01h-4.29zM747.62 431.32h4.29v5.01h-4.29zM747.62 436.28h4.29v5.01h-4.29zM747.62 441.24h4.29v5.01h-4.29zM747.62 446.2h4.29v5.01h-4.29zM747.62 451.16h4.29v5.01h-4.29zM475.96 461.08h72.21v5.01h-72.21zM318.9 466.04h38.25v5.01h-38.25zM747.62 466.04h4.29v5.01h-4.29zM747.62 471h4.29v5.01h-4.29zM157.6 485.88h46.74v5.01h-46.74zM140.62 530.51h42.5v5.01h-42.5zM267.96 535.47h46.74v5.01h-46.74zM267.96 540.43h46.74v5.01h-46.74zM556.61 545.39h4.29v5.01h-4.29zM556.61 550.35h4.29v5.01h-4.29zM556.61 555.31h4.29v5.01h-4.29zM556.61 560.27h4.29v5.01h-4.29zM556.61 565.23h4.29v5.01h-4.29zM556.61 570.19h4.29v5.01h-4.29zM548.12 575.15h4.29v5.01h-4.29zM548.12 580.11h4.29v5.01h-4.29zM535.38 585.07h4.29v5.01h-4.29zM535.38 590.03h4.29v5.01h-4.29zM535.38 594.99h4.29v5.01h-4.29zM577.83 599.95h8.54v5.01h-8.54zM577.83 604.91h8.54v5.01h-8.54zM577.83 609.87h8.54v5.01h-8.54zM577.83 614.83h8.54v5.01h-8.54zM658.48 619.79h114.66v5.01h-114.66zM658.48 624.75h140.13v5.01h-140.13zM658.48 629.71h118.9v5.01h-118.9zM658.48 634.67h114.66v5.01h-114.66z"/>
<path fill="#45307e" d="M985.33 252.77h29.76v5.01h-29.76zM955.62 257.73h25.52v5.01h-25.52zM930.15 262.69h21.27v5.01h-21.27zM917.41 267.65h25.52v5.01h-25.52zM908.92 272.61h21.27v5.01h-21.27zM756.11 277.57h12.78v5.01h-12.78zM764.6 282.53h55.23v5.01h-55.23zM747.62 302.37h4.29v5.01h-4.29zM586.32 361.88h4.29v5.01h-4.29zM586.32 366.84h4.29v5.01h-4.29zM565.1 371.8h4.29v5.01h-4.29zM526.89 376.76h12.78v5.01h-12.78zM526.89 381.72h12.78v5.01h-12.78zM526.89 386.68h12.78v5.01h-12.78zM526.89 391.64h12.78v5.01h-12.78zM514.16 396.6h21.27v5.01h-21.27zM514.16 401.56h21.27v5.01h-21.27zM514.16 406.52h21.27v5.01h-21.27zM514.16 411.48h21.27v5.01h-21.27zM526.89 416.44h12.78v5.01h-12.78zM526.89 421.4h12.78v5.01h-12.78zM1197.57 436.28h97.68v5.01h-97.68zM357.1 466.04h42.5v5.01h-42.5zM204.29 485.88h42.5v5.01h-42.5zM183.06 530.51h42.5v5.01h-42.5zM314.65 535.47h38.25v5.01h-38.25zM314.65 540.43h38.25v5.01h-38.25zM560.85 545.39h4.29v5.01h-4.29zM560.85 550.35h4.29v5.01h-4.29zM560.85 555.31h4.29v5.01h-4.29zM560.85 560.27h4.29v5.01h-4.29zM560.85 565.23h4.29v5.01h-4.29zM560.85 570.19h4.29v5.01h-4.29zM552.36 575.15h4.29v5.01h-4.29zM552.36 580.11h4.29v5.01h-4.29zM539.63 585.07h4.29v5.01h-4.29zM539.63 590.03h4.29v5.01h-4.29zM539.63 594.99h4.29v5.01h-4.29zM586.32 599.95h8.54v5.01h-8.54zM586.32 604.91h8.54v5.01h-8.54zM586.32 609.87h8.54v5.01h-8.54zM586.32 614.83h8.54v5.01h-8.54zM773.09 619.79h140.13v5.01h-140.13zM798.56 624.75h208.04v5.01h-208.04zM777.34 629.71h148.62v5.01h-148.62zM773.09 634.67h140.13v5.01h-140.13z"/>
<path fill="#453480" d="M1015.04 252.77h29.76v5.01h-29.76zM981.09 257.73h25.52v5.01h-25.52zM951.37 262.69h25.52v5.01h-25.52zM942.88 267.65h21.27v5.01h-21.27zM930.15 272.61h21.27v5.01h-21.27zM768.85 277.57h42.5v5.01h-42.5zM819.78 282.53h59.48v5.01h-59.48zM747.62 312.29h4.29v5.01h-4.29zM747.62 317.25h4.29v5.01h-4.29zM747.62 322.21h4.29v5.01h-4.29zM747.62 327.17h4.29v5.01h-4.29zM594.81 342.05h50.99v5.01h-50.99zM594.81 347.01h50.99v5.01h-50.99zM594.81 351.97h50.99v5.01h-50.99zM594.81 356.93h55.23v5.01h-55.23zM539.63 376.76h8.54v5.01h-8.54zM565.1 376.76h4.29v5.01h-4.29zM539.63 381.72h8.54v5.01h-8.54zM565.1 381.72h4.29v5.01h-4.29zM539.63 386.68h8.54v5.01h-8.54zM539.63 391.64h8.54v5.01h-8.54zM535.38 396.6h12.78v5.01h-12.78zM535.38 401.56h12.78v5.01h-12.78zM535.38 406.52h12.78v5.01h-12.78zM535.38 411.48h12.78v5.01h-12.78zM539.63 416.44h8.54v5.01h-8.54zM539.63 421.4h8.54v5.01h-8.54zM1159.37 436.28h38.25v5.01h-38.25zM399.55 466.04h38.25v5.01h-38.25zM751.87 466.04h4.29v5.01h-4.29zM119.39 471h34.01v5.01h-34.01zM751.87 471h4.29v5.01h-4.29zM119.39 475.96h34.01v5.01h-34.01zM246.74 485.88h46.74v5.01h-46.74zM225.51 530.51h42.5v5.01h-42.5zM352.86 535.47h34.01v5.01h-34.01zM352.86 540.43h34.01v5.01h-34.01zM565.1 545.39h8.54v5.01h-8.54zM565.1 550.35h8.54v5.01h-8.54zM565.1 555.31h8.54v5.01h-8.54zM565.1 560.27h8.54v5.01h-8.54zM565.1 565.23h8.54v5.01h-8.54zM565.1 570.19h8.54v5.01h-8.54zM556.61 575.15h4.29v5.01h-4.29zM556.61 580.11h4.29v5.01h-4.29zM543.87 585.07h4.29v5.01h-4.29zM543.87 590.03h4.29v5.01h-4.29zM543.87 594.99h4.29v5.01h-4.29zM594.81 599.95h55.23v5.01h-55.23zM594.81 604.91h55.23v5.01h-55.23zM594.81 609.87h55.23v5.01h-55.23zM594.81 614.83h55.23v5.01h-55.23zM913.17 619.79h55.23v5.01h-55.23zM1006.55 624.75h288.7v5.01h-288.7zM925.9 629.71h72.21v5.01h-72.21zM913.17 634.67h55.23v5.01h-55.23z"/>
<path fill="#443882" d="M1044.76 252.77h208.04v5.01h-208.04zM1006.55 257.73h25.52v5.01h-25.52zM976.84 262.69h21.27v5.01h-21.27zM964.11 267.65h21.27v5.01h-21.27zM951.37 272.61h21.27v5.01h-21.27zM811.29 277.57h38.25v5.01h-38.25zM879.21 282.53h34.01v5.01h-34.01zM751.87 287.49h4.29v5.01h-4.29zM751.87 292.45h4.29v5.01h-4.29zM751.87 297.41h4.29v5.01h-4.29zM747.62 332.13h4.29v5.01h-4.29zM747.62 337.09h4.29v5.01h-4.29zM645.75 342.05h4.29v5.01h-4.29zM645.75 347.01h4.29v5.01h-4.29zM645.75 351.97h4.29v5.01h-4.29zM649.99 356.93h4.29v5.01h-4.29zM590.56 361.88h4.29v5.01h-4.29zM590.56 366.84h4.29v5.01h-4.29zM548.12 376.76h8.54v5.01h-8.54zM548.12 381.72h8.54v5.01h-8.54zM548.12 386.68h8.54v5.01h-8.54zM565.1 386.68h4.29v5.01h-4.29zM548.12 391.64h8.54v5.01h-8.54zM565.1 391.64h4.29v5.01h-4.29zM548.12 396.6h8.54v5.01h-8.54zM548.12 401.56h8.54v5.01h-8.54zM548.12 406.52h8.54v5.01h-8.54zM548.12 411.48h8.54v5.01h-8.54zM548.12 416.44h8.54v5.01h-8.54zM548.12 421.4h8.54v5.01h-8.54zM751.87 431.32h4.29v5.01h-4.29zM751.87 436.28h4.29v5.01h-4.29zM751.87 441.24h4.29v5.01h-4.29zM751.87 446.2h233.51v5.01h-233.51zM751.87 451.16h233.51v5.01h-233.51zM437.75 466.04h38.25v5.01h-38.25zM153.35 471h34.01v5.01h-34.01zM153.35 475.96h34.01v5.01h-34.01zM119.39 480.92h25.52v5.01h-25.52zM293.43 485.88h29.76v5.01h-29.76zM267.96 530.51h38.25v5.01h-38.25zM386.81 535.47h34.01v5.01h-34.01zM386.81 540.43h34.01v5.01h-34.01zM573.59 545.39h4.29v5.01h-4.29zM573.59 550.35h4.29v5.01h-4.29zM573.59 555.31h4.29v5.01h-4.29zM573.59 560.27h4.29v5.01h-4.29zM573.59 565.23h4.29v5.01h-4.29zM573.59 570.19h4.29v5.01h-4.29zM560.85 575.15h4.29v5.01h-4.29zM560.85 580.11h4.29v5.01h-4.29zM548.12 585.07h4.29v5.01h-4.29zM548.12 590.03h4.29v5.01h-4.29zM548.12 594.99h4.29v5.01h-4.29zM649.99 599.95h4.29v5.01h-4.29zM649.99 604.91h4.29v5.01h-4.29zM649.99 609.87h4.29v5.01h-4.29zM649.99 614.83h4.29v5.01h-4.29zM968.35 619.79h55.23v5.01h-55.23zM998.06 629.71h191.07v5.01h-191.07zM968.35 634.67h55.23v5.01h-55.23z"/>
<path fill="#433c84" d="M1252.75 252.77h42.5v5.01h-42.5zM1032.02 257.73h25.52v5.01h-25.52zM998.06 262.69h25.52v5.01h-25.52zM985.33 267.65h21.27v5.01h-21.27zM972.6 272.61h21.27v5.01h-21.27zM849.5 277.57h42.5v5.01h-42.5zM913.17 282.53h21.27v5.01h-21.27zM747.62 307.33h4.29v5.01h-4.29zM649.99 342.05h4.29v5.01h-4.29zM649.99 347.01h4.29v5.01h-4.29zM649.99 351.97h4.29v5.01h-4.29zM654.24 356.93h93.44v5.01h-93.44zM556.61 376.76h8.54v5.01h-8.54zM556.61 381.72h8.54v5.01h-8.54zM556.61 386.68h8.54v5.01h-8.54zM556.61 391.64h8.54v5.01h-8.54zM556.61 396.6h8.54v5.01h-8.54zM556.61 401.56h12.78v5.01h-12.78zM556.61 406.52h12.78v5.01h-12.78zM556.61 411.48h12.78v5.01h-12.78zM556.61 416.44h12.78v5.01h-12.78zM556.61 421.4h12.78v5.01h-12.78zM985.33 441.24h12.78v5.01h-12.78zM985.33 446.2h12.78v5.01h-12.78zM985.33 451.16h12.78v5.01h-12.78zM475.96 466.04h72.21v5.01h-72.21zM756.11 466.04h63.72v5.01h-63.72zM187.31 471h29.76v5.01h-29.76zM756.11 471h63.72v5.01h-63.72zM187.31 475.96h29.76v5.01h-29.76zM144.86 480.92h34.01v5.01h-34.01zM323.14 485.88h25.52v5.01h-25.52zM119.39 520.59h21.27v5.01h-21.27zM119.39 525.55h21.27v5.01h-21.27zM306.16 530.51h29.76v5.01h-29.76zM420.77 535.47h34.01v5.01h-34.01zM420.77 540.43h34.01v5.01h-34.01zM577.83 545.39h4.29v5.01h-4.29zM577.83 550.35h4.29v5.01h-4.29zM577.83 555.31h4.29v5.01h-4.29zM577.83 560.27h4.29v5.01h-4.29zM577.83 565.23h4.29v5.01h-4.29zM577.83 570.19h4.29v5.01h-4.29zM565.1 575.15h4.29v5.01h-4.29zM565.1 580.11h4.29v5.01h-4.29zM552.36 585.07h4.29v5.01h-4.29zM552.36 590.03h4.29v5.01h-4.29zM552.36 594.99h4.29v5.01h-4.29zM654.24 599.95h93.44v5.01h-93.44zM654.24 604.91h93.44v5.01h-93.44zM654.24 609.87h93.44v5.01h-93.44zM654.24 614.83h93.44v5.01h-93.44zM1023.53 619.79h271.72v5.01h-271.72zM1189.08 629.71h106.17v5.01h-106.17zM1023.53 634.67h271.72v5.01h-271.72z"/>
<path fill="#424085" d="M1057.49 257.73h237.76v5.01h-237.76zM1023.53 262.69h21.27v5.01h-21.27zM1006.55 267.65h21.27v5.01h-21.27zM993.82 272.61h21.27v5.01h-21.27zM891.94 277.57h17.03v5.01h-17.03zM934.39 282.53h17.03v5.01h-17.03zM751.87 302.37h4.29v5.01h-4.29zM594.81 361.88h50.99v5.01h-50.99zM594.81 366.84h50.99v5.01h-50.99zM569.34 371.8h4.29v5.01h-4.29zM569.34 376.76h4.29v5.01h-4.29zM569.34 381.72h4.29v5.01h-4.29zM565.1 396.6h4.29v5.01h-4.29zM981.09 436.28h4.29v5.01h-4.29zM819.78 466.04h67.97v5.01h-67.97zM217.02 471h34.01v5.01h-34.01zM819.78 471h67.97v5.01h-67.97zM217.02 475.96h34.01v5.01h-34.01zM178.82 480.92h29.76v5.01h-29.76zM348.61 485.88h29.76v5.01h-29.76zM140.62 520.59h29.76v5.01h-29.76zM140.62 525.55h29.76v5.01h-29.76zM335.88 530.51h25.52v5.01h-25.52zM454.73 535.47h76.46v5.01h-76.46zM454.73 540.43h76.46v5.01h-76.46zM582.08 545.39h4.29v5.01h-4.29zM582.08 550.35h4.29v5.01h-4.29zM582.08 555.31h4.29v5.01h-4.29zM582.08 560.27h4.29v5.01h-4.29zM582.08 565.23h4.29v5.01h-4.29zM582.08 570.19h4.29v5.01h-4.29zM569.34 575.15h4.29v5.01h-4.29zM569.34 580.11h4.29v5.01h-4.29zM556.61 585.07h8.54v5.01h-8.54zM556.61 590.03h8.54v5.01h-8.54zM556.61 594.99h8.54v5.01h-8.54zM747.62 599.95h4.29v5.01h-4.29zM747.62 604.91h4.29v5.01h-4.29zM747.62 609.87h4.29v5.01h-4.29zM747.62 614.83h4.29v5.01h-4.29z"/>
<path fill="#414487" d="M1044.76 262.69h148.62v5.01h-148.62zM1027.78 267.65h25.52v5.01h-25.52zM1015.04 272.61h21.27v5.01h-21.27zM908.92 277.57h17.03v5.01h-17.03zM951.37 282.53h21.27v5.01h-21.27zM756.11 287.49h25.52v5.01h-25.52zM756.11 292.45h17.03v5.01h-17.03zM756.11 297.41h17.03v5.01h-17.03zM751.87 312.29h4.29v5.01h-4.29zM751.87 317.25h4.29v5.01h-4.29zM751.87 322.21h4.29v5.01h-4.29zM751.87 327.17h4.29v5.01h-4.29zM654.24 342.05h4.29v5.01h-4.29zM654.24 347.01h4.29v5.01h-4.29zM654.24 351.97h4.29v5.01h-4.29zM645.75 361.88h4.29v5.01h-4.29zM645.75 366.84h4.29v5.01h-4.29zM1049 426.36h110.41v5.01h-110.41zM1049 431.32h110.41v5.01h-110.41zM959.86 436.28h21.27v5.01h-21.27zM565.1 461.08h4.29v5.01h-4.29zM887.7 466.04h29.76v5.01h-29.76zM250.98 471h34.01v5.01h-34.01zM887.7 471h29.76v5.01h-29.76zM250.98 475.96h34.01v5.01h-34.01zM208.53 480.92h29.76v5.01h-29.76zM378.32 485.88h25.52v5.01h-25.52zM170.33 520.59h29.76v5.01h-29.76zM170.33 525.55h29.76v5.01h-29.76zM361.35 530.51h25.52v5.01h-25.52zM531.14 535.47h8.54v5.01h-8.54zM531.14 540.43h8.54v5.01h-8.54zM586.32 545.39h4.29v5.01h-4.29zM586.32 550.35h4.29v5.01h-4.29zM586.32 555.31h4.29v5.01h-4.29zM586.32 560.27h4.29v5.01h-4.29zM586.32 565.23h4.29v5.01h-4.29zM586.32 570.19h4.29v5.01h-4.29zM573.59 575.15h4.29v5.01h-4.29zM573.59 580.11h4.29v5.01h-4.29zM565.1 585.07h4.29v5.01h-4.29zM565.1 590.03h4.29v5.01h-4.29zM565.1 594.99h4.29v5.01h-4.29zM751.87 599.95h140.13v5.01h-140.13zM751.87 604.91h140.13v5.01h-140.13zM751.87 609.87h140.13v5.01h-140.13zM751.87 614.83h140.13v5.01h-140.13z"/>
<path fill="#404888" d="M1193.33 262.69h101.92v5.01h-101.92zM1053.25 267.65h208.04v5.01h-208.04zM1036.27 272.61h21.27v5.01h-21.27zM925.9 277.57h12.78v5.01h-12.78zM972.6 282.53h21.27v5.01h-21.27zM781.58 287.49h50.99v5.01h-50.99zM773.09 292.45h38.25v5.01h-38.25zM773.09 297.41h38.25v5.01h-38.25zM751.87 332.13h4.29v5.01h-4.29zM751.87 337.09h4.29v5.01h-4.29zM649.99 361.88h4.29v5.01h-4.29zM649.99 366.84h4.29v5.01h-4.29zM569.34 386.68h4.29v5.01h-4.29zM569.34 391.64h4.29v5.01h-4.29zM569.34 401.56h4.29v5.01h-4.29zM569.34 406.52h4.29v5.01h-4.29zM569.34 411.48h4.29v5.01h-4.29zM938.64 436.28h21.27v5.01h-21.27zM658.48 456.12h89.19v5.01h-89.19zM658.48 461.08h89.19v5.01h-89.19zM917.41 466.04h25.52v5.01h-25.52zM284.94 471h25.52v5.01h-25.52zM917.41 471h25.52v5.01h-25.52zM284.94 475.96h25.52v5.01h-25.52zM238.25 480.92h29.76v5.01h-29.76zM403.79 485.88h29.76v5.01h-29.76zM200.04 520.59h25.52v5.01h-25.52zM200.04 525.55h25.52v5.01h-25.52zM386.81 530.51h25.52v5.01h-25.52zM539.63 535.47h8.54v5.01h-8.54zM539.63 540.43h8.54v5.01h-8.54zM590.56 545.39h8.54v5.01h-8.54zM590.56 550.35h8.54v5.01h-8.54zM590.56 555.31h8.54v5.01h-8.54zM590.56 560.27h8.54v5.01h-8.54zM590.56 565.23h8.54v5.01h-8.54zM590.56 570.19h8.54v5.01h-8.54zM569.34 585.07h4.29v5.01h-4.29zM569.34 590.03h4.29v5.01h-4.29zM569.34 594.99h4.29v5.01h-4.29zM891.94 599.95h97.68v5.01h-97.68zM891.94 604.91h97.68v5.01h-97.68zM891.94 609.87h97.68v5.01h-97.68zM891.94 614.83h97.68v5.01h-97.68z"/>
<path fill="#3e4b89" d="M1261.24 267.65h34.01v5.01h-34.01zM1057.49 272.61h237.76v5.01h-237.76zM938.64 277.57h12.78v5.01h-12.78zM993.82 282.53h21.27v5.01h-21.27zM832.52 287.49h50.99v5.01h-50.99zM811.29 292.45h34.01v5.01h-34.01zM811.29 297.41h34.01v5.01h-34.01zM756.11 302.37h29.76v5.01h-29.76zM658.48 342.05h89.19v5.01h-89.19zM658.48 347.01h89.19v5.01h-89.19zM658.48 351.97h89.19v5.01h-89.19zM747.62 356.93h4.29v5.01h-4.29zM654.24 361.88h4.29v5.01h-4.29zM654.24 366.84h4.29v5.01h-4.29zM573.59 371.8h72.21v5.01h-72.21zM573.59 376.76h72.21v5.01h-72.21zM573.59 381.72h72.21v5.01h-72.21zM569.34 396.6h4.29v5.01h-4.29zM569.34 416.44h4.29v5.01h-4.29zM751.87 416.44h4.29v5.01h-4.29zM569.34 421.4h4.29v5.01h-4.29zM751.87 421.4h4.29v5.01h-4.29zM751.87 426.36h4.29v5.01h-4.29zM917.41 436.28h21.27v5.01h-21.27zM756.11 441.24h229.27v5.01h-229.27zM998.06 446.2h21.27v5.01h-21.27zM998.06 451.16h21.27v5.01h-21.27zM942.88 466.04h21.27v5.01h-21.27zM310.41 471h21.27v5.01h-21.27zM942.88 471h21.27v5.01h-21.27zM310.41 475.96h21.27v5.01h-21.27zM590.56 475.96h59.48v5.01h-59.48zM267.96 480.92h34.01v5.01h-34.01zM582.08 480.92h67.97v5.01h-67.97zM433.51 485.88h25.52v5.01h-25.52zM582.08 485.88h67.97v5.01h-67.97zM582.08 490.84h63.72v5.01h-63.72zM225.51 520.59h29.76v5.01h-29.76zM225.51 525.55h29.76v5.01h-29.76zM412.28 530.51h29.76v5.01h-29.76zM548.12 535.47h8.54v5.01h-8.54zM548.12 540.43h8.54v5.01h-8.54zM599.05 545.39h55.23v5.01h-55.23zM599.05 550.35h55.23v5.01h-55.23zM599.05 555.31h55.23v5.01h-55.23zM599.05 560.27h55.23v5.01h-55.23zM599.05 565.23h55.23v5.01h-55.23zM599.05 570.19h55.23v5.01h-55.23zM577.83 575.15h4.29v5.01h-4.29zM577.83 580.11h4.29v5.01h-4.29zM573.59 585.07h4.29v5.01h-4.29zM573.59 590.03h4.29v5.01h-4.29zM573.59 594.99h4.29v5.01h-4.29zM989.58 599.95h305.68v5.01h-305.68zM989.58 604.91h305.68v5.01h-305.68zM989.58 609.87h305.68v5.01h-305.68zM989.58 614.83h305.68v5.01h-305.68z"/>
<path fill="#3c4e8a" d="M951.37 277.57h17.03v5.01h-17.03zM1015.04 282.53h17.03v5.01h-17.03zM883.46 287.49h29.76v5.01h-29.76zM845.25 292.45h34.01v5.01h-34.01zM845.25 297.41h34.01v5.01h-34.01zM785.83 302.37h34.01v5.01h-34.01zM658.48 361.88h89.19v5.01h-89.19zM658.48 366.84h89.19v5.01h-89.19zM645.75 371.8h4.29v5.01h-4.29zM645.75 376.76h4.29v5.01h-4.29zM645.75 381.72h4.29v5.01h-4.29zM569.34 426.36h4.29v5.01h-4.29zM569.34 431.32h4.29v5.01h-4.29zM887.7 436.28h29.76v5.01h-29.76zM964.11 466.04h25.52v5.01h-25.52zM331.63 471h21.27v5.01h-21.27zM964.11 471h25.52v5.01h-25.52zM331.63 475.96h21.27v5.01h-21.27zM649.99 475.96h4.29v5.01h-4.29zM301.92 480.92h17.03v5.01h-17.03zM649.99 480.92h4.29v5.01h-4.29zM458.98 485.88h93.44v5.01h-93.44zM649.99 485.88h4.29v5.01h-4.29zM645.75 490.84h4.29v5.01h-4.29zM255.23 520.59h29.76v5.01h-29.76zM255.23 525.55h29.76v5.01h-29.76zM442 530.51h25.52v5.01h-25.52zM556.61 535.47h8.54v5.01h-8.54zM556.61 540.43h8.54v5.01h-8.54zM654.24 545.39h93.44v5.01h-93.44zM654.24 550.35h93.44v5.01h-93.44zM654.24 555.31h93.44v5.01h-93.44zM654.24 560.27h93.44v5.01h-93.44zM654.24 565.23h93.44v5.01h-93.44zM654.24 570.19h93.44v5.01h-93.44zM582.08 575.15h4.29v5.01h-4.29zM582.08 580.11h4.29v5.01h-4.29zM577.83 585.07h4.29v5.01h-4.29zM577.83 590.03h4.29v5.01h-4.29zM577.83 594.99h4.29v5.01h-4.29z"/>
<path fill="#3b528b" d="M968.35 277.57h12.78v5.01h-12.78zM1032.02 282.53h21.27v5.01h-21.27zM913.17 287.49h17.03v5.01h-17.03zM879.21 292.45h25.52v5.01h-25.52zM879.21 297.41h25.52v5.01h-25.52zM819.78 302.37h29.76v5.01h-29.76zM756.11 312.29h29.76v5.01h-29.76zM756.11 317.25h50.99v5.01h-50.99zM756.11 322.21h80.7v5.01h-80.7zM756.11 327.17h101.92v5.01h-101.92zM756.11 332.13h42.5v5.01h-42.5zM756.11 337.09h59.48v5.01h-59.48zM747.62 342.05h4.29v5.01h-4.29zM747.62 347.01h4.29v5.01h-4.29zM747.62 351.97h4.29v5.01h-4.29zM649.99 371.8h4.29v5.01h-4.29zM649.99 376.76h4.29v5.01h-4.29zM649.99 381.72h4.29v5.01h-4.29zM573.59 401.56h72.21v5.01h-72.21zM573.59 406.52h72.21v5.01h-72.21zM573.59 411.48h72.21v5.01h-72.21zM824.03 436.28h63.72v5.01h-63.72zM560.85 441.24h8.54v5.01h-8.54zM560.85 446.2h8.54v5.01h-8.54zM747.62 456.12h4.29v5.01h-4.29zM548.12 461.08h8.54v5.01h-8.54zM747.62 461.08h4.29v5.01h-4.29zM989.58 466.04h21.27v5.01h-21.27zM352.86 471h21.27v5.01h-21.27zM989.58 471h21.27v5.01h-21.27zM352.86 475.96h21.27v5.01h-21.27zM318.9 480.92h17.03v5.01h-17.03zM284.94 520.59h21.27v5.01h-21.27zM284.94 525.55h21.27v5.01h-21.27zM467.47 530.51h63.72v5.01h-63.72zM565.1 535.47h4.29v5.01h-4.29zM565.1 540.43h4.29v5.01h-4.29zM586.32 575.15h4.29v5.01h-4.29zM586.32 580.11h4.29v5.01h-4.29zM582.08 585.07h8.54v5.01h-8.54zM582.08 590.03h8.54v5.01h-8.54zM582.08 594.99h8.54v5.01h-8.54z"/>
<path fill="#3a558c" d="M981.09 277.57h12.78v5.01h-12.78zM1053.25 282.53h212.29v5.01h-212.29zM930.15 287.49h17.03v5.01h-17.03zM904.68 292.45h12.78v5.01h-12.78zM904.68 297.41h12.78v5.01h-12.78zM849.5 302.37h34.01v5.01h-34.01zM751.87 307.33h4.29v5.01h-4.29zM785.83 312.29h59.48v5.01h-59.48zM807.05 317.25h97.68v5.01h-97.68zM836.76 322.21h97.68v5.01h-97.68zM857.99 327.17h97.68v5.01h-97.68zM798.56 332.13h80.7v5.01h-80.7zM815.54 337.09h93.44v5.01h-93.44zM573.59 386.68h4.29v5.01h-4.29zM573.59 391.64h4.29v5.01h-4.29zM573.59 396.6h4.29v5.01h-4.29zM645.75 401.56h4.29v5.01h-4.29zM764.6 436.28h59.48v5.01h-59.48zM1010.8 466.04h25.52v5.01h-25.52zM374.08 471h21.27v5.01h-21.27zM1010.8 471h25.52v5.01h-25.52zM374.08 475.96h21.27v5.01h-21.27zM654.24 475.96h4.29v5.01h-4.29zM335.88 480.92h21.27v5.01h-21.27zM654.24 480.92h4.29v5.01h-4.29zM654.24 485.88h4.29v5.01h-4.29zM649.99 490.84h4.29v5.01h-4.29zM306.16 520.59h17.03v5.01h-17.03zM306.16 525.55h17.03v5.01h-17.03zM531.14 530.51h8.54v5.01h-8.54zM569.34 535.47h8.54v5.01h-8.54zM569.34 540.43h8.54v5.01h-8.54zM747.62 545.39h4.29v5.01h-4.29zM747.62 550.35h4.29v5.01h-4.29zM747.62 555.31h4.29v5.01h-4.29zM747.62 560.27h4.29v5.01h-4.29zM747.62 565.23h4.29v5.01h-4.29zM747.62 570.19h4.29v5.01h-4.29zM590.56 575.15h4.29v5.01h-4.29zM590.56 580.11h4.29v5.01h-4.29zM590.56 585.07h4.29v5.01h-4.29zM590.56 590.03h4.29v5.01h-4.29zM590.56 594.99h4.29v5.01h-4.29z"/>
<path fill="#38588c" d="M993.82 277.57h17.03v5.01h-17.03zM1265.49 282.53h29.76v5.01h-29.76zM947.13 287.49h17.03v5.01h-17.03zM917.41 292.45h12.78v5.01h-12.78zM917.41 297.41h12.78v5.01h-12.78zM883.46 302.37h21.27v5.01h-21.27zM845.25 312.29h55.23v5.01h-55.23zM904.68 317.25h34.01v5.01h-34.01zM934.39 322.21h55.23v5.01h-55.23zM955.62 327.17h72.21v5.01h-72.21zM879.21 332.13h42.5v5.01h-42.5zM908.92 337.09h42.5v5.01h-42.5zM751.87 356.93h4.29v5.01h-4.29zM747.62 361.88h4.29v5.01h-4.29zM654.24 371.8h4.29v5.01h-4.29zM654.24 376.76h4.29v5.01h-4.29zM654.24 381.72h4.29v5.01h-4.29zM577.83 386.68h72.21v5.01h-72.21zM577.83 391.64h72.21v5.01h-72.21zM577.83 396.6h72.21v5.01h-72.21zM645.75 406.52h4.29v5.01h-4.29zM645.75 411.48h4.29v5.01h-4.29zM573.59 416.44h72.21v5.01h-72.21zM573.59 421.4h72.21v5.01h-72.21zM1159.37 421.4h84.95v5.01h-84.95zM1159.37 431.32h84.95v5.01h-84.95zM756.11 436.28h8.54v5.01h-8.54zM751.87 456.12h4.29v5.01h-4.29zM751.87 461.08h4.29v5.01h-4.29zM1036.27 466.04h21.27v5.01h-21.27zM395.3 471h21.27v5.01h-21.27zM1036.27 471h21.27v5.01h-21.27zM395.3 475.96h21.27v5.01h-21.27zM658.48 475.96h93.44v5.01h-93.44zM357.1 480.92h17.03v5.01h-17.03zM658.48 480.92h89.19v5.01h-89.19zM658.48 485.88h93.44v5.01h-93.44zM323.14 520.59h17.03v5.01h-17.03zM323.14 525.55h17.03v5.01h-17.03zM539.63 530.51h4.29v5.01h-4.29zM577.83 535.47h8.54v5.01h-8.54zM577.83 540.43h8.54v5.01h-8.54zM751.87 545.39h4.29v5.01h-4.29zM751.87 550.35h4.29v5.01h-4.29zM751.87 555.31h4.29v5.01h-4.29zM751.87 560.27h4.29v5.01h-4.29zM947.13 560.27h348.12v5.01h-348.12zM751.87 565.23h4.29v5.01h-4.29zM751.87 570.19h4.29v5.01h-4.29zM594.81 575.15h50.99v5.01h-50.99zM594.81 580.11h50.99v5.01h-50.99zM594.81 585.07h50.99v5.01h-50.99zM594.81 590.03h50.99v5.01h-50.99zM594.81 594.99h50.99v5.01h-50.99z"/>
<path fill="#365c8c" d="M1010.8 277.57h12.78v5.01h-12.78zM964.11 287.49h17.03v5.01h-17.03zM930.15 292.45h12.78v5.01h-12.78zM930.15 297.41h12.78v5.01h-12.78zM904.68 302.37h12.78v5.01h-12.78zM900.43 312.29h21.27v5.01h-21.27zM938.64 317.25h34.01v5.01h-34.01zM989.58 322.21h59.48v5.01h-59.48zM1027.78 327.17h267.47v5.01h-267.47zM921.66 332.13h25.52v5.01h-25.52zM951.37 337.09h38.25v5.01h-38.25zM751.87 342.05h4.29v5.01h-4.29zM751.87 347.01h4.29v5.01h-4.29zM751.87 351.97h4.29v5.01h-4.29zM658.48 371.8h89.19v5.01h-89.19zM658.48 376.76h89.19v5.01h-89.19zM658.48 381.72h89.19v5.01h-89.19zM645.75 421.4h4.29v5.01h-4.29zM1057.49 466.04h237.76v5.01h-237.76zM416.53 471h21.27v5.01h-21.27zM1057.49 471h237.76v5.01h-237.76zM416.53 475.96h21.27v5.01h-21.27zM751.87 475.96h4.29v5.01h-4.29zM374.08 480.92h21.27v5.01h-21.27zM751.87 485.88h4.29v5.01h-4.29zM340.12 520.59h21.27v5.01h-21.27zM340.12 525.55h21.27v5.01h-21.27zM543.87 530.51h4.29v5.01h-4.29zM586.32 535.47h8.54v5.01h-8.54zM586.32 540.43h8.54v5.01h-8.54zM756.11 545.39h29.76v5.01h-29.76zM756.11 550.35h50.99v5.01h-50.99zM756.11 555.31h123.15v5.01h-123.15zM756.11 560.27h191.07v5.01h-191.07zM756.11 565.23h42.5v5.01h-42.5zM756.11 570.19h178.33v5.01h-178.33zM645.75 575.15h8.54v5.01h-8.54zM645.75 580.11h8.54v5.01h-8.54zM645.75 585.07h8.54v5.01h-8.54zM645.75 590.03h8.54v5.01h-8.54zM645.75 594.99h8.54v5.01h-8.54z"/>
<path fill="#355f8d" d="M1023.53 277.57h12.78v5.01h-12.78zM981.09 287.49h17.03v5.01h-17.03zM942.88 292.45h12.78v5.01h-12.78zM942.88 297.41h12.78v5.01h-12.78zM917.41 302.37h12.78v5.01h-12.78zM921.66 312.29h21.27v5.01h-21.27zM972.6 317.25h38.25v5.01h-38.25zM1049 322.21h246.25v5.01h-246.25zM947.13 332.13h29.76v5.01h-29.76zM989.58 337.09h42.5v5.01h-42.5zM747.62 366.84h4.29v5.01h-4.29zM649.99 386.68h4.29v5.01h-4.29zM649.99 391.64h4.29v5.01h-4.29zM649.99 396.6h4.29v5.01h-4.29zM649.99 401.56h4.29v5.01h-4.29zM645.75 416.44h4.29v5.01h-4.29zM654.24 426.36h63.72v5.01h-63.72zM569.34 441.24h21.27v5.01h-21.27zM569.34 446.2h80.7v5.01h-80.7zM756.11 456.12h34.01v5.01h-34.01zM756.11 461.08h34.01v5.01h-34.01zM437.75 471h21.27v5.01h-21.27zM437.75 475.96h21.27v5.01h-21.27zM756.11 475.96h59.48v5.01h-59.48zM395.3 480.92h17.03v5.01h-17.03zM747.62 480.92h4.29v5.01h-4.29zM756.11 485.88h29.76v5.01h-29.76zM654.24 490.84h4.29v5.01h-4.29zM556.61 505.72h89.19v5.01h-89.19zM552.36 510.67h93.44v5.01h-93.44zM552.36 515.63h93.44v5.01h-93.44zM361.35 520.59h17.03v5.01h-17.03zM361.35 525.55h17.03v5.01h-17.03zM548.12 530.51h8.54v5.01h-8.54zM594.81 535.47h55.23v5.01h-55.23zM594.81 540.43h55.23v5.01h-55.23zM785.83 545.39h101.92v5.01h-101.92zM807.05 550.35h114.66v5.01h-114.66zM879.21 555.31h152.86v5.01h-152.86zM798.56 565.23h114.66v5.01h-114.66zM934.39 570.19h360.86v5.01h-360.86zM654.24 575.15h4.29v5.01h-4.29zM654.24 580.11h4.29v5.01h-4.29zM654.24 585.07h4.29v5.01h-4.29zM654.24 590.03h4.29v5.01h-4.29zM654.24 594.99h4.29v5.01h-4.29z"/>
<path fill="#34628d" d="M1036.27 277.57h17.03v5.01h-17.03zM998.06 287.49h21.27v5.01h-21.27zM955.62 292.45h12.78v5.01h-12.78zM955.62 297.41h12.78v5.01h-12.78zM930.15 302.37h8.54v5.01h-8.54zM942.88 312.29h17.03v5.01h-17.03zM1010.8 317.25h34.01v5.01h-34.01zM976.84 332.13h29.76v5.01h-29.76zM1032.02 337.09h203.8v5.01h-203.8zM756.11 342.05h63.72v5.01h-63.72zM756.11 347.01h59.48v5.01h-59.48zM756.11 351.97h50.99v5.01h-50.99zM756.11 356.93h46.74v5.01h-46.74zM654.24 386.68h4.29v5.01h-4.29zM747.62 386.68h4.29v5.01h-4.29zM654.24 391.64h4.29v5.01h-4.29zM654.24 396.6h4.29v5.01h-4.29zM649.99 406.52h4.29v5.01h-4.29zM649.99 411.48h4.29v5.01h-4.29zM649.99 421.4h4.29v5.01h-4.29zM573.59 426.36h4.29v5.01h-4.29zM645.75 426.36h8.54v5.01h-8.54zM573.59 431.32h4.29v5.01h-4.29zM645.75 431.32h4.29v5.01h-4.29zM968.35 431.32h17.03v5.01h-17.03zM569.34 436.28h4.29v5.01h-4.29zM790.07 456.12h59.48v5.01h-59.48zM790.07 461.08h59.48v5.01h-59.48zM458.98 471h17.03v5.01h-17.03zM458.98 475.96h17.03v5.01h-17.03zM815.54 475.96h93.44v5.01h-93.44zM412.28 480.92h21.27v5.01h-21.27zM785.83 485.88h59.48v5.01h-59.48zM645.75 505.72h4.29v5.01h-4.29zM645.75 510.67h4.29v5.01h-4.29zM645.75 515.63h4.29v5.01h-4.29zM378.32 520.59h17.03v5.01h-17.03zM378.32 525.55h17.03v5.01h-17.03zM556.61 530.51h4.29v5.01h-4.29zM649.99 535.47h4.29v5.01h-4.29zM649.99 540.43h4.29v5.01h-4.29zM887.7 545.39h42.5v5.01h-42.5zM921.66 550.35h59.48v5.01h-59.48zM1032.02 555.31h263.23v5.01h-263.23zM913.17 565.23h46.74v5.01h-46.74zM658.48 575.15h93.44v5.01h-93.44zM658.48 580.11h93.44v5.01h-93.44zM658.48 585.07h93.44v5.01h-93.44zM658.48 590.03h93.44v5.01h-93.44zM658.48 594.99h93.44v5.01h-93.44z"/>
<path fill="#32668e" d="M1053.25 277.57h93.44v5.01h-93.44zM1019.29 287.49h17.03v5.01h-17.03zM968.35 292.45h12.78v5.01h-12.78zM968.35 297.41h12.78v5.01h-12.78zM938.64 302.37h12.78v5.01h-12.78zM756.11 307.33h8.54v5.01h-8.54zM959.86 312.29h21.27v5.01h-21.27zM1044.76 317.25h250.49v5.01h-250.49zM1006.55 332.13h25.52v5.01h-25.52zM1235.77 337.09h59.48v5.01h-59.48zM819.78 342.05h84.95v5.01h-84.95zM815.54 347.01h80.7v5.01h-80.7zM807.05 351.97h76.46v5.01h-76.46zM802.8 356.93h59.48v5.01h-59.48zM751.87 361.88h4.29v5.01h-4.29zM747.62 381.72h4.29v5.01h-4.29zM658.48 386.68h89.19v5.01h-89.19zM751.87 386.68h4.29v5.01h-4.29zM658.48 391.64h89.19v5.01h-89.19zM658.48 396.6h89.19v5.01h-89.19zM577.83 426.36h67.97v5.01h-67.97zM1159.37 426.36h84.95v5.01h-84.95zM577.83 431.32h67.97v5.01h-67.97zM900.43 431.32h67.97v5.01h-67.97zM849.5 456.12h55.23v5.01h-55.23zM849.5 461.08h55.23v5.01h-55.23zM475.96 471h72.21v5.01h-72.21zM475.96 475.96h72.21v5.01h-72.21zM908.92 475.96h42.5v5.01h-42.5zM433.51 480.92h17.03v5.01h-17.03zM845.25 485.88h55.23v5.01h-55.23zM658.48 490.84h89.19v5.01h-89.19zM565.1 495.8h182.58v5.01h-182.58zM560.85 500.76h186.82v5.01h-186.82zM649.99 505.72h4.29v5.01h-4.29zM649.99 510.67h4.29v5.01h-4.29zM649.99 515.63h4.29v5.01h-4.29zM395.3 520.59h17.03v5.01h-17.03zM395.3 525.55h17.03v5.01h-17.03zM560.85 530.51h4.29v5.01h-4.29zM654.24 535.47h93.44v5.01h-93.44zM654.24 540.43h93.44v5.01h-93.44zM930.15 545.39h38.25v5.01h-38.25zM981.09 550.35h55.23v5.01h-55.23zM959.86 565.23h46.74v5.01h-46.74zM751.87 575.15h25.52v5.01h-25.52zM751.87 580.11h25.52v5.01h-25.52zM751.87 585.07h25.52v5.01h-25.52zM751.87 590.03h25.52v5.01h-25.52zM751.87 594.99h25.52v5.01h-25.52z"/>
<path fill="#30698e" d="M1146.63 277.57h148.62v5.01h-148.62zM1036.27 287.49h17.03v5.01h-17.03zM981.09 292.45h8.54v5.01h-8.54zM981.09 297.41h8.54v5.01h-8.54zM951.37 302.37h8.54v5.01h-8.54zM764.6 307.33h55.23v5.01h-55.23zM981.09 312.29h21.27v5.01h-21.27zM1032.02 332.13h55.23v5.01h-55.23zM904.68 342.05h29.76v5.01h-29.76zM896.19 347.01h29.76v5.01h-29.76zM883.46 351.97h38.25v5.01h-38.25zM862.23 356.93h46.74v5.01h-46.74zM756.11 386.68h76.46v5.01h-76.46zM654.24 401.56h4.29v5.01h-4.29zM649.99 416.44h4.29v5.01h-4.29zM654.24 421.4h4.29v5.01h-4.29zM756.11 426.36h29.76v5.01h-29.76zM756.11 431.32h144.37v5.01h-144.37zM645.75 441.24h4.29v5.01h-4.29zM904.68 456.12h21.27v5.01h-21.27zM904.68 461.08h21.27v5.01h-21.27zM951.37 475.96h38.25v5.01h-38.25zM450.49 480.92h21.27v5.01h-21.27zM751.87 480.92h4.29v5.01h-4.29zM900.43 485.88h21.27v5.01h-21.27zM412.28 520.59h17.03v5.01h-17.03zM412.28 525.55h17.03v5.01h-17.03zM565.1 530.51h8.54v5.01h-8.54zM747.62 535.47h4.29v5.01h-4.29zM747.62 540.43h4.29v5.01h-4.29zM968.35 545.39h34.01v5.01h-34.01zM1036.27 550.35h258.98v5.01h-258.98zM1006.55 565.23h46.74v5.01h-46.74zM777.34 575.15h148.62v5.01h-148.62zM777.34 580.11h148.62v5.01h-148.62zM777.34 585.07h148.62v5.01h-148.62zM777.34 590.03h148.62v5.01h-148.62zM777.34 594.99h148.62v5.01h-148.62z"/>
<path fill="#2f6c8e" d="M1053.25 287.49h161.35v5.01h-161.35zM989.58 292.45h12.78v5.01h-12.78zM989.58 297.41h12.78v5.01h-12.78zM959.86 302.37h12.78v5.01h-12.78zM819.78 307.33h59.48v5.01h-59.48zM1002.31 312.29h21.27v5.01h-21.27zM1087.21 332.13h208.04v5.01h-208.04zM934.39 342.05h29.76v5.01h-29.76zM925.9 347.01h29.76v5.01h-29.76zM921.66 351.97h25.52v5.01h-25.52zM908.92 356.93h21.27v5.01h-21.27zM751.87 366.84h4.29v5.01h-4.29zM832.52 386.68h131.64v5.01h-131.64zM785.83 426.36h101.92v5.01h-101.92zM590.56 441.24h55.23v5.01h-55.23zM925.9 456.12h21.27v5.01h-21.27zM925.9 461.08h21.27v5.01h-21.27zM989.58 475.96h42.5v5.01h-42.5zM471.71 480.92h76.46v5.01h-76.46zM921.66 485.88h21.27v5.01h-21.27zM747.62 490.84h4.29v5.01h-4.29zM747.62 495.8h4.29v5.01h-4.29zM747.62 500.76h4.29v5.01h-4.29zM654.24 505.72h4.29v5.01h-4.29zM654.24 510.67h4.29v5.01h-4.29zM654.24 515.63h4.29v5.01h-4.29zM429.26 520.59h17.03v5.01h-17.03zM429.26 525.55h17.03v5.01h-17.03zM573.59 530.51h4.29v5.01h-4.29zM751.87 535.47h55.23v5.01h-55.23zM751.87 540.43h84.95v5.01h-84.95zM1002.31 545.39h34.01v5.01h-34.01zM1053.25 565.23h242v5.01h-242zM925.9 575.15h72.21v5.01h-72.21zM925.9 580.11h72.21v5.01h-72.21zM925.9 585.07h72.21v5.01h-72.21zM925.9 590.03h72.21v5.01h-72.21zM925.9 594.99h72.21v5.01h-72.21z"/>
<path fill="#2e6f8e" d="M1214.55 287.49h80.7v5.01h-80.7zM1002.31 292.45h12.78v5.01h-12.78zM1002.31 297.41h12.78v5.01h-12.78zM972.6 302.37h12.78v5.01h-12.78zM879.21 307.33h34.01v5.01h-34.01zM1023.53 312.29h17.03v5.01h-17.03zM964.11 342.05h34.01v5.01h-34.01zM955.62 347.01h25.52v5.01h-25.52zM947.13 351.97h25.52v5.01h-25.52zM930.15 356.93h21.27v5.01h-21.27zM756.11 361.88h21.27v5.01h-21.27zM964.11 386.68h8.54v5.01h-8.54zM658.48 401.56h89.19v5.01h-89.19zM654.24 406.52h4.29v5.01h-4.29zM654.24 411.48h4.29v5.01h-4.29zM658.48 421.4h59.48v5.01h-59.48zM887.7 426.36h42.5v5.01h-42.5zM556.61 451.16h8.54v5.01h-8.54zM556.61 456.12h8.54v5.01h-8.54zM947.13 456.12h21.27v5.01h-21.27zM947.13 461.08h21.27v5.01h-21.27zM1032.02 475.96h203.8v5.01h-203.8zM756.11 480.92h72.21v5.01h-72.21zM942.88 485.88h17.03v5.01h-17.03zM658.48 505.72h93.44v5.01h-93.44zM658.48 510.67h93.44v5.01h-93.44zM658.48 515.63h93.44v5.01h-93.44zM446.24 520.59h17.03v5.01h-17.03zM446.24 525.55h17.03v5.01h-17.03zM577.83 530.51h4.29v5.01h-4.29zM807.05 535.47h97.68v5.01h-97.68zM836.76 540.43h97.68v5.01h-97.68zM1036.27 545.39h208.04v5.01h-208.04zM998.06 575.15h191.07v5.01h-191.07zM998.06 580.11h191.07v5.01h-191.07zM998.06 585.07h191.07v5.01h-191.07zM998.06 590.03h191.07v5.01h-191.07zM998.06 594.99h191.07v5.01h-191.07z"/>
<path fill="#2c728e" d="M1015.04 292.45h12.78v5.01h-12.78zM1015.04 297.41h12.78v5.01h-12.78zM985.33 302.37h8.54v5.01h-8.54zM913.17 307.33h21.27v5.01h-21.27zM1040.51 312.29h46.74v5.01h-46.74zM998.06 342.05h29.76v5.01h-29.76zM981.09 347.01h29.76v5.01h-29.76zM972.6 351.97h25.52v5.01h-25.52zM951.37 356.93h21.27v5.01h-21.27zM777.34 361.88h25.52v5.01h-25.52zM751.87 381.72h4.29v5.01h-4.29zM972.6 386.68h4.29v5.01h-4.29zM654.24 416.44h4.29v5.01h-4.29zM930.15 426.36h38.25v5.01h-38.25zM968.35 456.12h21.27v5.01h-21.27zM968.35 461.08h21.27v5.01h-21.27zM548.12 466.04h8.54v5.01h-8.54zM548.12 471h8.54v5.01h-8.54zM548.12 475.96h8.54v5.01h-8.54zM1235.77 475.96h59.48v5.01h-59.48zM548.12 480.92h8.54v5.01h-8.54zM828.27 480.92h80.7v5.01h-80.7zM959.86 485.88h21.27v5.01h-21.27zM751.87 490.84h4.29v5.01h-4.29zM751.87 495.8h4.29v5.01h-4.29zM751.87 500.76h4.29v5.01h-4.29zM751.87 505.72h12.78v5.01h-12.78zM751.87 510.67h8.54v5.01h-8.54zM751.87 515.63h17.03v5.01h-17.03zM463.22 520.59h97.68v5.01h-97.68zM463.22 525.55h97.68v5.01h-97.68zM582.08 530.51h8.54v5.01h-8.54zM904.68 535.47h34.01v5.01h-34.01zM934.39 540.43h55.23v5.01h-55.23zM1244.26 545.39h50.99v5.01h-50.99zM1189.08 575.15h106.17v5.01h-106.17zM1189.08 580.11h106.17v5.01h-106.17zM1189.08 585.07h106.17v5.01h-106.17zM1189.08 590.03h106.17v5.01h-106.17zM1189.08 594.99h106.17v5.01h-106.17z"/>
<path fill="#2b758e" d="M1027.78 292.45h12.78v5.01h-12.78zM1027.78 297.41h12.78v5.01h-12.78zM993.82 302.37h12.78v5.01h-12.78zM934.39 307.33h17.03v5.01h-17.03zM1087.21 312.29h208.04v5.01h-208.04zM1027.78 342.05h34.01v5.01h-34.01zM1010.8 347.01h29.76v5.01h-29.76zM998.06 351.97h25.52v5.01h-25.52zM972.6 356.93h21.27v5.01h-21.27zM802.8 361.88h29.76v5.01h-29.76zM976.84 386.68h8.54v5.01h-8.54zM968.35 426.36h17.03v5.01h-17.03zM1019.29 451.16h182.58v5.01h-182.58zM989.58 456.12h25.52v5.01h-25.52zM989.58 461.08h25.52v5.01h-25.52zM908.92 480.92h38.25v5.01h-38.25zM981.09 485.88h21.27v5.01h-21.27zM764.6 505.72h93.44v5.01h-93.44zM760.36 510.67h42.5v5.01h-42.5zM768.85 515.63h101.92v5.01h-101.92zM590.56 530.51h4.29v5.01h-4.29zM938.64 535.47h34.01v5.01h-34.01zM989.58 540.43h59.48v5.01h-59.48z"/>
<path fill="#2a788e" d="M1040.51 292.45h12.78v5.01h-12.78zM1040.51 297.41h12.78v5.01h-12.78zM1006.55 302.37h12.78v5.01h-12.78zM951.37 307.33h21.27v5.01h-21.27zM1061.74 342.05h233.51v5.01h-233.51zM1040.51 347.01h127.39v5.01h-127.39zM1023.53 351.97h25.52v5.01h-25.52zM993.82 356.93h25.52v5.01h-25.52zM832.52 361.88h25.52v5.01h-25.52zM747.62 371.8h4.29v5.01h-4.29zM747.62 376.76h4.29v5.01h-4.29zM756.11 381.72h208.04v5.01h-208.04zM985.33 386.68h8.54v5.01h-8.54zM658.48 406.52h89.19v5.01h-89.19zM658.48 411.48h89.19v5.01h-89.19zM658.48 416.44h89.19v5.01h-89.19zM645.75 436.28h4.29v5.01h-4.29zM1201.81 451.16h93.44v5.01h-93.44zM1015.04 456.12h21.27v5.01h-21.27zM1015.04 461.08h21.27v5.01h-21.27zM947.13 480.92h34.01v5.01h-34.01zM1002.31 485.88h21.27v5.01h-21.27zM756.11 490.84h25.52v5.01h-25.52zM756.11 495.8h25.52v5.01h-25.52zM756.11 500.76h25.52v5.01h-25.52zM857.99 505.72h59.48v5.01h-59.48zM802.8 510.67h42.5v5.01h-42.5zM870.72 515.63h55.23v5.01h-55.23zM560.85 520.59h4.29v5.01h-4.29zM560.85 525.55h4.29v5.01h-4.29zM594.81 530.51h152.86v5.01h-152.86zM972.6 535.47h38.25v5.01h-38.25zM1049 540.43h246.25v5.01h-246.25z"/>
<path fill="#297b8e" d="M1053.25 292.45h76.46v5.01h-76.46zM1053.25 297.41h76.46v5.01h-76.46zM1019.29 302.37h8.54v5.01h-8.54zM972.6 307.33h21.27v5.01h-21.27zM1167.86 347.01h127.39v5.01h-127.39zM1049 351.97h208.04v5.01h-208.04zM1019.29 356.93h21.27v5.01h-21.27zM857.99 361.88h29.76v5.01h-29.76zM993.82 386.68h8.54v5.01h-8.54zM573.59 436.28h4.29v5.01h-4.29zM1036.27 456.12h21.27v5.01h-21.27zM1036.27 461.08h21.27v5.01h-21.27zM981.09 480.92h34.01v5.01h-34.01zM1023.53 485.88h17.03v5.01h-17.03zM781.58 490.84h46.74v5.01h-46.74zM781.58 495.8h46.74v5.01h-46.74zM781.58 500.76h46.74v5.01h-46.74zM917.41 505.72h29.76v5.01h-29.76zM845.25 510.67h42.5v5.01h-42.5zM925.9 515.63h34.01v5.01h-34.01zM747.62 530.51h8.54v5.01h-8.54zM1010.8 535.47h34.01v5.01h-34.01z"/>
<path fill="#287e8e" d="M1129.65 292.45h165.6v5.01h-165.6zM1129.65 297.41h165.6v5.01h-165.6zM1027.78 302.37h12.78v5.01h-12.78zM993.82 307.33h21.27v5.01h-21.27zM1257 351.97h38.25v5.01h-38.25zM1040.51 356.93h29.76v5.01h-29.76zM887.7 361.88h25.52v5.01h-25.52zM756.11 366.84h17.03v5.01h-17.03zM964.11 381.72h4.29v5.01h-4.29zM1002.31 386.68h8.54v5.01h-8.54zM577.83 436.28h67.97v5.01h-67.97zM998.06 441.24h110.41v5.01h-110.41zM1019.29 446.2h89.19v5.01h-89.19zM1057.49 456.12h237.76v5.01h-237.76zM556.61 461.08h8.54v5.01h-8.54zM1057.49 461.08h237.76v5.01h-237.76zM556.61 466.04h8.54v5.01h-8.54zM556.61 471h8.54v5.01h-8.54zM556.61 475.96h4.29v5.01h-4.29zM1015.04 480.92h38.25v5.01h-38.25zM1040.51 485.88h46.74v5.01h-46.74zM828.27 490.84h46.74v5.01h-46.74zM828.27 495.8h46.74v5.01h-46.74zM828.27 500.76h46.74v5.01h-46.74zM947.13 505.72h29.76v5.01h-29.76zM887.7 510.67h25.52v5.01h-25.52zM959.86 515.63h34.01v5.01h-34.01zM756.11 530.51h93.44v5.01h-93.44zM1044.76 535.47h250.49v5.01h-250.49z"/>
<path fill="#26818e" d="M1040.51 302.37h12.78v5.01h-12.78zM1015.04 307.33h17.03v5.01h-17.03zM1070.23 356.93h225.02v5.01h-225.02zM913.17 361.88h29.76v5.01h-29.76zM773.09 366.84h21.27v5.01h-21.27zM968.35 381.72h4.29v5.01h-4.29zM1010.8 386.68h4.29v5.01h-4.29zM1108.43 441.24h123.15v5.01h-123.15zM1108.43 446.2h123.15v5.01h-123.15zM1053.25 480.92h242v5.01h-242zM1087.21 485.88h208.04v5.01h-208.04zM874.97 490.84h34.01v5.01h-34.01zM874.97 495.8h34.01v5.01h-34.01zM874.97 500.76h34.01v5.01h-34.01zM976.84 505.72h34.01v5.01h-34.01zM913.17 510.67h12.78v5.01h-12.78zM993.82 515.63h38.25v5.01h-38.25zM565.1 520.59h4.29v5.01h-4.29zM565.1 525.55h4.29v5.01h-4.29zM849.5 530.51h67.97v5.01h-67.97z"/>
<path fill="#25848e" d="M1053.25 302.37h55.23v5.01h-55.23zM1032.02 307.33h21.27v5.01h-21.27zM942.88 361.88h25.52v5.01h-25.52zM794.31 366.84h17.03v5.01h-17.03zM972.6 381.72h4.29v5.01h-4.29zM1015.04 386.68h8.54v5.01h-8.54zM756.11 416.44h12.78v5.01h-12.78zM756.11 421.4h12.78v5.01h-12.78zM1231.53 441.24h63.72v5.01h-63.72zM1231.53 446.2h63.72v5.01h-63.72zM908.92 490.84h17.03v5.01h-17.03zM908.92 495.8h17.03v5.01h-17.03zM908.92 500.76h17.03v5.01h-17.03zM1010.8 505.72h29.76v5.01h-29.76zM925.9 510.67h17.03v5.01h-17.03zM1032.02 515.63h106.17v5.01h-106.17zM917.41 530.51h34.01v5.01h-34.01z"/>
<path fill="#24878e" d="M1108.43 302.37h169.84v5.01h-169.84zM1053.25 307.33h212.29v5.01h-212.29zM968.35 361.88h29.76v5.01h-29.76zM811.29 366.84h17.03v5.01h-17.03zM976.84 381.72h4.29v5.01h-4.29zM1023.53 386.68h8.54v5.01h-8.54zM768.85 416.44h17.03v5.01h-17.03zM768.85 421.4h17.03v5.01h-17.03zM925.9 490.84h17.03v5.01h-17.03zM925.9 495.8h17.03v5.01h-17.03zM925.9 500.76h17.03v5.01h-17.03zM1040.51 505.72h208.04v5.01h-208.04zM942.88 510.67h12.78v5.01h-12.78zM1138.14 515.63h157.11v5.01h-157.11zM569.34 520.59h4.29v5.01h-4.29zM569.34 525.55h4.29v5.01h-4.29zM951.37 530.51h38.25v5.01h-38.25z"/>
<path fill="#238a8d" d="M1278.22 302.37h17.03v5.01h-17.03zM1265.49 307.33h29.76v5.01h-29.76zM998.06 361.88h55.23v5.01h-55.23zM828.27 366.84h21.27v5.01h-21.27zM981.09 381.72h4.29v5.01h-4.29zM1032.02 386.68h8.54v5.01h-8.54zM785.83 416.44h21.27v5.01h-21.27zM785.83 421.4h21.27v5.01h-21.27zM942.88 490.84h17.03v5.01h-17.03zM942.88 495.8h17.03v5.01h-17.03zM942.88 500.76h17.03v5.01h-17.03zM1248.51 505.72h46.74v5.01h-46.74zM955.62 510.67h17.03v5.01h-17.03zM989.58 530.51h34.01v5.01h-34.01z"/>
<path fill="#228e8c" d="M1053.25 361.88h63.72v5.01h-63.72zM849.5 366.84h17.03v5.01h-17.03zM985.33 381.72h4.29v5.01h-4.29zM1040.51 386.68h4.29v5.01h-4.29zM807.05 416.44h21.27v5.01h-21.27zM807.05 421.4h21.27v5.01h-21.27zM959.86 490.84h12.78v5.01h-12.78zM959.86 495.8h12.78v5.01h-12.78zM959.86 500.76h12.78v5.01h-12.78zM972.6 510.67h12.78v5.01h-12.78zM1023.53 530.51h34.01v5.01h-34.01z"/>
<path fill="#21918c" d="M1116.92 361.88h59.48v5.01h-59.48zM866.48 366.84h21.27v5.01h-21.27zM989.58 381.72h4.29v5.01h-4.29zM1044.76 386.68h42.5v5.01h-42.5zM828.27 416.44h17.03v5.01h-17.03zM828.27 421.4h17.03v5.01h-17.03zM972.6 490.84h17.03v5.01h-17.03zM972.6 495.8h17.03v5.01h-17.03zM972.6 500.76h17.03v5.01h-17.03zM985.33 510.67h12.78v5.01h-12.78zM573.59 520.59h174.09v5.01h-174.09zM573.59 525.55h174.09v5.01h-174.09zM1057.49 530.51h237.76v5.01h-237.76z"/>
<path fill="#20948b" d="M1176.35 361.88h63.72v5.01h-63.72zM887.7 366.84h17.03v5.01h-17.03zM993.82 381.72h4.29v5.01h-4.29zM1087.21 386.68h67.97v5.01h-67.97zM845.25 416.44h21.27v5.01h-21.27zM845.25 421.4h21.27v5.01h-21.27zM989.58 490.84h17.03v5.01h-17.03zM989.58 495.8h17.03v5.01h-17.03zM989.58 500.76h17.03v5.01h-17.03zM998.06 510.67h17.03v5.01h-17.03zM747.62 520.59h4.29v5.01h-4.29zM747.62 525.55h4.29v5.01h-4.29z"/>
<path fill="#20968a" d="M1240.02 361.88h55.23v5.01h-55.23zM904.68 366.84h21.27v5.01h-21.27zM998.06 381.72h4.29v5.01h-4.29zM1155.12 386.68h8.54v5.01h-8.54zM866.48 416.44h4.29v5.01h-4.29zM866.48 421.4h4.29v5.01h-4.29zM1006.55 490.84h17.03v5.01h-17.03zM1006.55 495.8h17.03v5.01h-17.03zM1006.55 500.76h17.03v5.01h-17.03zM1015.04 510.67h12.78v5.01h-12.78zM751.87 520.59h12.78v5.01h-12.78zM751.87 525.55h12.78v5.01h-12.78z"/>
<path fill="#1f998a" d="M925.9 366.84h17.03v5.01h-17.03zM1002.31 381.72h4.29v5.01h-4.29zM1023.53 490.84h17.03v5.01h-17.03zM1023.53 495.8h17.03v5.01h-17.03zM1023.53 500.76h17.03v5.01h-17.03zM1027.78 510.67h17.03v5.01h-17.03zM764.6 520.59h59.48v5.01h-59.48zM764.6 525.55h59.48v5.01h-59.48z"/>
<path fill="#1e9c89" d="M942.88 366.84h21.27v5.01h-21.27zM751.87 371.8h4.29v5.01h-4.29zM751.87 376.76h4.29v5.01h-4.29zM1006.55 381.72h4.29v5.01h-4.29zM1040.51 490.84h17.03v5.01h-17.03zM1040.51 495.8h17.03v5.01h-17.03zM1040.51 500.76h17.03v5.01h-17.03zM1044.76 510.67h12.78v5.01h-12.78zM824.03 520.59h63.72v5.01h-63.72zM824.03 525.55h63.72v5.01h-63.72z"/>
<path fill="#1f9f88" d="M964.11 366.84h17.03v5.01h-17.03zM1010.8 381.72h4.29v5.01h-4.29zM1057.49 490.84h212.29v5.01h-212.29zM1057.49 495.8h212.29v5.01h-212.29zM1057.49 500.76h212.29v5.01h-212.29zM1057.49 510.67h216.53v5.01h-216.53zM887.7 520.59h29.76v5.01h-29.76zM887.7 525.55h29.76v5.01h-29.76z"/>
<path fill="#20a286" d="M981.09 366.84h21.27v5.01h-21.27zM1015.04 381.72h4.29v5.01h-4.29zM870.72 416.44h34.01v5.01h-34.01zM870.72 421.4h34.01v5.01h-34.01zM1269.73 490.84h25.52v5.01h-25.52zM1269.73 495.8h25.52v5.01h-25.52zM1269.73 500.76h25.52v5.01h-25.52zM1273.98 510.67h21.27v5.01h-21.27zM917.41 520.59h21.27v5.01h-21.27zM917.41 525.55h21.27v5.01h-21.27z"/>
<path fill="#21a585" d="M1002.31 366.84h34.01v5.01h-34.01zM1019.29 381.72h4.29v5.01h-4.29zM904.68 416.44h34.01v5.01h-34.01zM904.68 421.4h34.01v5.01h-34.01zM938.64 520.59h21.27v5.01h-21.27zM938.64 525.55h21.27v5.01h-21.27z"/>
<path fill="#22a884" d="M1036.27 366.84h34.01v5.01h-34.01zM1023.53 381.72h4.29v5.01h-4.29zM938.64 416.44h17.03v5.01h-17.03zM938.64 421.4h17.03v5.01h-17.03zM959.86 520.59h21.27v5.01h-21.27zM959.86 525.55h21.27v5.01h-21.27z"/>
<path fill="#25ab82" d="M1070.23 366.84h34.01v5.01h-34.01zM1027.78 381.72h4.29v5.01h-4.29zM981.09 520.59h21.27v5.01h-21.27zM981.09 525.55h21.27v5.01h-21.27z"/>
<path fill="#28ae80" d="M1104.18 366.84h34.01v5.01h-34.01zM756.11 371.8h17.03v5.01h-17.03zM756.11 376.76h17.03v5.01h-17.03zM1032.02 381.72h4.29v5.01h-4.29zM1002.31 520.59h25.52v5.01h-25.52zM1002.31 525.55h25.52v5.01h-25.52z"/>
<path fill="#2cb17e" d="M1138.14 366.84h34.01v5.01h-34.01zM773.09 371.8h21.27v5.01h-21.27zM773.09 376.76h21.27v5.01h-21.27zM1027.78 520.59h21.27v5.01h-21.27zM1027.78 525.55h21.27v5.01h-21.27z"/>
<path fill="#2fb47c" d="M1172.1 366.84h34.01v5.01h-34.01zM794.31 371.8h21.27v5.01h-21.27zM794.31 376.76h21.27v5.01h-21.27zM1036.27 381.72h4.29v5.01h-4.29zM1049 520.59h148.62v5.01h-148.62zM1049 525.55h148.62v5.01h-148.62z"/>
<path fill="#34b779" d="M1206.06 366.84h34.01v5.01h-34.01zM815.54 371.8h17.03v5.01h-17.03zM815.54 376.76h17.03v5.01h-17.03zM1040.51 381.72h4.29v5.01h-4.29zM1197.57 520.59h97.68v5.01h-97.68zM1197.57 525.55h97.68v5.01h-97.68z"/>
<path fill="#3aba76" d="M1240.02 366.84h29.76v5.01h-29.76zM832.52 371.8h21.27v5.01h-21.27zM832.52 376.76h21.27v5.01h-21.27zM1044.76 381.72h8.54v5.01h-8.54zM955.62 416.44h29.76v5.01h-29.76zM955.62 421.4h29.76v5.01h-29.76z"/>
<path fill="#3fbc73" d="M1269.73 366.84h25.52v5.01h-25.52zM853.74 371.8h21.27v5.01h-21.27zM853.74 376.76h21.27v5.01h-21.27zM1053.25 381.72h34.01v5.01h-34.01z"/>
<path fill="#44bf70" d="M874.97 371.8h17.03v5.01h-17.03zM874.97 376.76h17.03v5.01h-17.03zM1087.21 381.72h38.25v5.01h-38.25z"/>
<path fill="#4bc26c" d="M891.94 371.8h21.27v5.01h-21.27zM891.94 376.76h21.27v5.01h-21.27zM1125.41 381.72h34.01v5.01h-34.01z"/>
<path fill="#51c469" d="M913.17 371.8h17.03v5.01h-17.03zM913.17 376.76h17.03v5.01h-17.03zM1159.37 381.72h4.29v5.01h-4.29z"/>
<path fill="#58c665" d="M930.15 371.8h17.03v5.01h-17.03zM930.15 376.76h17.03v5.01h-17.03z"/>
<path fill="#5ec962" d="M947.13 371.8h8.54v5.01h-8.54zM947.13 376.76h8.54v5.01h-8.54z"/>
<path fill="#82d34c" d="M955.62 371.8h21.27v5.01h-21.27zM955.62 376.76h21.27v5.01h-21.27z"/>
<path fill="#8ad547" d="M976.84 371.8h25.52v5.01h-25.52zM976.84 376.76h25.52v5.01h-25.52z"/>
<path fill="#93d741" d="M1002.31 371.8h25.52v5.01h-25.52zM1002.31 376.76h25.52v5.01h-25.52z"/>
<path fill="#9bd93c" d="M1027.78 371.8h29.76v5.01h-29.76zM1027.78 376.76h29.76v5.01h-29.76z"/>
<path fill="#a4da36" d="M1057.49 371.8h38.25v5.01h-38.25zM1057.49 376.76h38.25v5.01h-38.25z"/>
<path fill="#acdc31" d="M1095.69 371.8h34.01v5.01h-34.01zM1095.69 376.76h34.01v5.01h-34.01z"/>
<path fill="#dde416" d="M1129.65 371.8h21.27v5.01h-21.27zM1129.65 376.76h21.27v5.01h-21.27z"/>
<path fill="#dee414" d="M1150.88 371.8h12.78v5.01h-12.78zM1150.88 376.76h12.78v5.01h-12.78z"/>
</g>
<g fill="#d8cdea" shape-rendering="crispEdges"><rect x="81" y="138.7" width="1" height="590.2" fill-opacity="0.06"/><rect x="85" y="138.7" width="1" height="590.2" fill-opacity="0.04"/><rect x="98" y="138.7" width="1" height="590.2" fill-opacity="0.06"/><rect x="102" y="138.7" width="1" height="590.2" fill-opacity="0.05"/><rect x="115" y="138.7" width="1" height="590.2" fill-opacity="0.05"/><rect x="119" y="138.7" width="1" height="590.2" fill-opacity="0.06"/><rect x="132" y="138.7" width="1" height="590.2" fill-opacity="0.04"/><rect x="136" y="138.7" width="1" height="590.2" fill-opacity="0.06"/><rect x="149" y="138.7" width="1" height="590.2" fill-opacity="0.03"/><rect x="153" y="138.7" width="1" height="590.2" fill-opacity="0.06"/><rect x="166" y="138.7" width="1" height="590.2" fill-opacity="0.02"/><rect x="170" y="138.7" width="1" height="590.2" fill-opacity="0.06"/><rect x="183" y="138.7" width="1" height="590.2" fill-opacity="0.01"/><rect x="187" y="138.7" width="1" height="590.2" fill-opacity="0.06"/><rect x="204" y="138.7" width="1" height="590.2" fill-opacity="0.06"/><rect x="208" y="138.7" width="1" height="590.2" fill-opacity="0.02"/><rect x="221" y="138.7" width="1" height="590.2" fill-opacity="0.06"/><rect x="225" y="138.7" width="1" height="590.2" fill-opacity="0.03"/><rect x="238" y="138.7" width="1" height="590.2" fill-opacity="0.06"/><rect x="242" y="138.7" width="1" height="590.2" fill-opacity="0.04"/><rect x="255" y="138.7" width="1" height="590.2" fill-opacity="0.06"/><rect x="259" y="138.7" width="1" height="590.2" fill-opacity="0.05"/><rect x="272" y="138.7" width="1" height="590.2" fill-opacity="0.05"/><rect x="276" y="138.7" width="1" height="590.2" fill-opacity="0.06"/><rect x="289" y="138.7" width="1" height="590.2" fill-opacity="0.04"/><rect x="293" y="138.7" width="1" height="590.2" fill-opacity="0.06"/><rect x="306" y="138.7" width="1" height="590.2" fill-opacity="0.03"/><rect x="310" y="138.7" width="1" height="590.2" fill-opacity="0.06"/><rect x="323" y="138.7" width="1" height="590.2" fill-opacity="0.02"/><rect x="327" y="138.7" width="1" height="590.2" fill-opacity="0.06"/><rect x="340" y="138.7" width="1" height="590.2" fill-opacity="0.01"/><rect x="344" y="138.7" width="1" height="590.2" fill-opacity="0.06"/><rect x="361" y="138.7" width="1" height="590.2" fill-opacity="0.06"/><rect x="365" y="138.7" width="1" height="590.2" fill-opacity="0.02"/><rect x="378" y="138.7" width="1" height="590.2" fill-opacity="0.06"/><rect x="382" y="138.7" width="1" height="590.2" fill-opacity="0.03"/><rect x="395" y="138.7" width="1" height="590.2" fill-opacity="0.06"/><rect x="399" y="138.7" width="1" height="590.2" fill-opacity="0.04"/><rect x="412" y="138.7" width="1" height="590.2" fill-opacity="0.06"/><rect x="416" y="138.7" width="1" height="590.2" fill-opacity="0.05"/><rect x="429" y="138.7" width="1" height="590.2" fill-opacity="0.05"/><rect x="433" y="138.7" width="1" height="590.2" fill-opacity="0.06"/><rect x="446" y="138.7" width="1" height="590.2" fill-opacity="0.04"/><rect x="450" y="138.7" width="1" height="590.2" fill-opacity="0.06"/><rect x="463" y="138.7" width="1" height="590.2" fill-opacity="0.03"/><rect x="467" y="138.7" width="1" height="590.2" fill-opacity="0.06"/><rect x="480" y="138.7" width="1" height="590.2" fill-opacity="0.02"/><rect x="484" y="138.7" width="1" height="590.2" fill-opacity="0.06"/><rect x="497" y="138.7" width="1" height="590.2" fill-opacity="0.01"/><rect x="501" y="138.7" width="1" height="590.2" fill-opacity="0.06"/><rect x="518" y="138.7" width="1" height="590.2" fill-opacity="0.06"/><rect x="522" y="138.7" width="1" height="590.2" fill-opacity="0.02"/><rect x="535" y="138.7" width="1" height="590.2" fill-opacity="0.06"/><rect x="539" y="138.7" width="1" height="590.2" fill-opacity="0.03"/><rect x="552" y="138.7" width="1" height="590.2" fill-opacity="0.06"/><rect x="556" y="138.7" width="1" height="590.2" fill-opacity="0.04"/><rect x="569" y="138.7" width="1" height="590.2" fill-opacity="0.06"/><rect x="573" y="138.7" width="1" height="590.2" fill-opacity="0.05"/><rect x="586" y="138.7" width="1" height="590.2" fill-opacity="0.05"/><rect x="590" y="138.7" width="1" height="590.2" fill-opacity="0.06"/><rect x="603" y="138.7" width="1" height="590.2" fill-opacity="0.04"/><rect x="607" y="138.7" width="1" height="590.2" fill-opacity="0.06"/><rect x="620" y="138.7" width="1" height="590.2" fill-opacity="0.03"/><rect x="624" y="138.7" width="1" height="590.2" fill-opacity="0.06"/><rect x="637" y="138.7" width="1" height="590.2" fill-opacity="0.02"/><rect x="641" y="138.7" width="1" height="590.2" fill-opacity="0.06"/><rect x="654" y="138.7" width="1" height="590.2" fill-opacity="0.01"/><rect x="658" y="138.7" width="1" height="590.2" fill-opacity="0.06"/><rect x="675" y="138.7" width="1" height="590.2" fill-opacity="0.06"/><rect x="679" y="138.7" width="1" height="590.2" fill-opacity="0.02"/><rect x="692" y="138.7" width="1" height="590.2" fill-opacity="0.06"/><rect x="696" y="138.7" width="1" height="590.2" fill-opacity="0.03"/><rect x="709" y="138.7" width="1" height="590.2" fill-opacity="0.06"/><rect x="713" y="138.7" width="1" height="590.2" fill-opacity="0.04"/><rect x="726" y="138.7" width="1" height="590.2" fill-opacity="0.06"/><rect x="730" y="138.7" width="1" height="590.2" fill-opacity="0.05"/><rect x="743" y="138.7" width="1" height="590.2" fill-opacity="0.05"/><rect x="747" y="138.7" width="1" height="590.2" fill-opacity="0.06"/><rect x="760" y="138.7" width="1" height="590.2" fill-opacity="0.04"/><rect x="764" y="138.7" width="1" height="590.2" fill-opacity="0.06"/><rect x="777" y="138.7" width="1" height="590.2" fill-opacity="0.03"/><rect x="781" y="138.7" width="1" height="590.2" fill-opacity="0.06"/><rect x="794" y="138.7" width="1" height="590.2" fill-opacity="0.02"/><rect x="798" y="138.7" width="1" height="590.2" fill-opacity="0.06"/><rect x="811" y="138.7" width="1" height="590.2" fill-opacity="0.01"/><rect x="815" y="138.7" width="1" height="590.2" fill-opacity="0.06"/><rect x="832" y="138.7" width="1" height="590.2" fill-opacity="0.06"/><rect x="836" y="138.7" width="1" height="590.2" fill-opacity="0.02"/><rect x="849" y="138.7" width="1" height="590.2" fill-opacity="0.06"/><rect x="853" y="138.7" width="1" height="590.2" fill-opacity="0.03"/><rect x="866" y="138.7" width="1" height="590.2" fill-opacity="0.06"/><rect x="870" y="138.7" width="1" height="590.2" fill-opacity="0.04"/><rect x="883" y="138.7" width="1" height="590.2" fill-opacity="0.06"/><rect x="887" y="138.7" width="1" height="590.2" fill-opacity="0.05"/><rect x="900" y="138.7" width="1" height="590.2" fill-opacity="0.05"/><rect x="904" y="138.7" width="1" height="590.2" fill-opacity="0.06"/><rect x="917" y="138.7" width="1" height="590.2" fill-opacity="0.04"/><rect x="921" y="138.7" width="1" height="590.2" fill-opacity="0.06"/><rect x="934" y="138.7" width="1" height="590.2" fill-opacity="0.03"/><rect x="938" y="138.7" width="1" height="590.2" fill-opacity="0.06"/><rect x="951" y="138.7" width="1" height="590.2" fill-opacity="0.02"/><rect x="955" y="138.7" width="1" height="590.2" fill-opacity="0.06"/><rect x="968" y="138.7" width="1" height="590.2" fill-opacity="0.01"/><rect x="972" y="138.7" width="1" height="590.2" fill-opacity="0.06"/><rect x="989" y="138.7" width="1" height="590.2" fill-opacity="0.06"/><rect x="993" y="138.7" width="1" height="590.2" fill-opacity="0.02"/><rect x="1006" y="138.7" width="1" height="590.2" fill-opacity="0.06"/><rect x="1010" y="138.7" width="1" height="590.2" fill-opacity="0.03"/><rect x="1023" y="138.7" width="1" height="590.2" fill-opacity="0.06"/><rect x="1027" y="138.7" width="1" height="590.2" fill-opacity="0.04"/><rect x="1040" y="138.7" width="1" height="590.2" fill-opacity="0.06"/><rect x="1044" y="138.7" width="1" height="590.2" fill-opacity="0.05"/><rect x="1057" y="138.7" width="1" height="590.2" fill-opacity="0.05"/><rect x="1061" y="138.7" width="1" height="590.2" fill-opacity="0.06"/><rect x="1074" y="138.7" width="1" height="590.2" fill-opacity="0.04"/><rect x="1078" y="138.7" width="1" height="590.2" fill-opacity="0.06"/><rect x="1091" y="138.7" width="1" height="590.2" fill-opacity="0.03"/><rect x="1095" y="138.7" width="1" height="590.2" fill-opacity="0.06"/><rect x="1108" y="138.7" width="1" height="590.2" fill-opacity="0.02"/><rect x="1112" y="138.7" width="1" height="590.2" fill-opacity="0.06"/><rect x="1125" y="138.7" width="1" height="590.2" fill-opacity="0.01"/><rect x="1129" y="138.7" width="1" height="590.2" fill-opacity="0.06"/><rect x="1146" y="138.7" width="1" height="590.2" fill-opacity="0.06"/><rect x="1150" y="138.7" width="1" height="590.2" fill-opacity="0.02"/><rect x="1163" y="138.7" width="1" height="590.2" fill-opacity="0.06"/><rect x="1167" y="138.7" width="1" height="590.2" fill-opacity="0.03"/><rect x="1180" y="138.7" width="1" height="590.2" fill-opacity="0.06"/><rect x="1184" y="138.7" width="1" height="590.2" fill-opacity="0.04"/><rect x="1197" y="138.7" width="1" height="590.2" fill-opacity="0.06"/><rect x="1201" y="138.7" width="1" height="590.2" fill-opacity="0.05"/><rect x="1214" y="138.7" width="1" height="590.2" fill-opacity="0.05"/><rect x="1218" y="138.7" width="1" height="590.2" fill-opacity="0.06"/><rect x="1231" y="138.7" width="1" height="590.2" fill-opacity="0.04"/><rect x="1235" y="138.7" width="1" height="590.2" fill-opacity="0.06"/><rect x="1248" y="138.7" width="1" height="590.2" fill-opacity="0.03"/><rect x="1252" y="138.7" width="1" height="590.2" fill-opacity="0.06"/><rect x="1265" y="138.7" width="1" height="590.2" fill-opacity="0.02"/><rect x="1269" y="138.7" width="1" height="590.2" fill-opacity="0.06"/><rect x="1282" y="138.7" width="1" height="590.2" fill-opacity="0.01"/><rect x="1286" y="138.7" width="1" height="590.2" fill-opacity="0.06"/><rect x="72.7" y="168" width="1222.5" height="1" fill-opacity="0.02"/><rect x="72.7" y="173" width="1222.5" height="1" fill-opacity="0.03"/><rect x="72.7" y="178" width="1222.5" height="1" fill-opacity="0.04"/><rect x="72.7" y="183" width="1222.5" height="1" fill-opacity="0.05"/><rect x="72.7" y="188" width="1222.5" height="1" fill-opacity="0.06"/><rect x="72.7" y="193" width="1222.5" height="1" fill-opacity="0.06"/><rect x="72.7" y="198" width="1222.5" height="1" fill-opacity="0.05"/><rect x="72.7" y="203" width="1222.5" height="1" fill-opacity="0.04"/><rect x="72.7" y="208" width="1222.5" height="1" fill-opacity="0.03"/><rect x="72.7" y="213" width="1222.5" height="1" fill-opacity="0.02"/><rect x="72.7" y="287" width="1222.5" height="1" fill-opacity="0.01"/><rect x="72.7" y="292" width="1222.5" height="1" fill-opacity="0.02"/><rect x="72.7" y="297" width="1222.5" height="1" fill-opacity="0.03"/><rect x="72.7" y="302" width="1222.5" height="1" fill-opacity="0.05"/><rect x="72.7" y="307" width="1222.5" height="1" fill-opacity="0.06"/><rect x="72.7" y="312" width="1222.5" height="1" fill-opacity="0.07"/><rect x="72.7" y="317" width="1222.5" height="1" fill-opacity="0.06"/><rect x="72.7" y="322" width="1222.5" height="1" fill-opacity="0.05"/><rect x="72.7" y="327" width="1222.5" height="1" fill-opacity="0.04"/><rect x="72.7" y="332" width="1222.5" height="1" fill-opacity="0.02"/><rect x="72.7" y="337" width="1222.5" height="1" fill-opacity="0.01"/><rect x="72.7" y="411" width="1222.5" height="1" fill-opacity="0.02"/><rect x="72.7" y="416" width="1222.5" height="1" fill-opacity="0.03"/><rect x="72.7" y="421" width="1222.5" height="1" fill-opacity="0.04"/><rect x="72.7" y="426" width="1222.5" height="1" fill-opacity="0.05"/><rect x="72.7" y="431" width="1222.5" height="1" fill-opacity="0.06"/><rect x="72.7" y="436" width="1222.5" height="1" fill-opacity="0.07"/><rect x="72.7" y="441" width="1222.5" height="1" fill-opacity="0.05"/><rect x="72.7" y="446" width="1222.5" height="1" fill-opacity="0.04"/><rect x="72.7" y="451" width="1222.5" height="1" fill-opacity="0.03"/><rect x="72.7" y="456" width="1222.5" height="1" fill-opacity="0.02"/><rect x="72.7" y="535" width="1222.5" height="1" fill-opacity="0.02"/><rect x="72.7" y="540" width="1222.5" height="1" fill-opacity="0.03"/><rect x="72.7" y="545" width="1222.5" height="1" fill-opacity="0.04"/><rect x="72.7" y="550" width="1222.5" height="1" fill-opacity="0.05"/><rect x="72.7" y="555" width="1222.5" height="1" fill-opacity="0.07"/><rect x="72.7" y="560" width="1222.5" height="1" fill-opacity="0.06"/><rect x="72.7" y="565" width="1222.5" height="1" fill-opacity="0.05"/><rect x="72.7" y="570" width="1222.5" height="1" fill-opacity="0.04"/><rect x="72.7" y="575" width="1222.5" height="1" fill-opacity="0.03"/><rect x="72.7" y="580" width="1222.5" height="1" fill-opacity="0.02"/><rect x="72.7" y="654" width="1222.5" height="1" fill-opacity="0.01"/><rect x="72.7" y="659" width="1222.5" height="1" fill-opacity="0.02"/><rect x="72.7" y="664" width="1222.5" height="1" fill-opacity="0.04"/><rect x="72.7" y="669" width="1222.5" height="1" fill-opacity="0.05"/><rect x="72.7" y="674" width="1222.5" height="1" fill-opacity="0.06"/><rect x="72.7" y="679" width="1222.5" height="1" fill-opacity="0.07"/><rect x="72.7" y="684" width="1222.5" height="1" fill-opacity="0.06"/><rect x="72.7" y="689" width="1222.5" height="1" fill-opacity="0.05"/><rect x="72.7" y="694" width="1222.5" height="1" fill-opacity="0.03"/><rect x="72.7" y="699" width="1222.5" height="1" fill-opacity="0.02"/><rect x="72.7" y="704" width="1222.5" height="1" fill-opacity="0.01"/></g>
<g shape-rendering="crispEdges">
<path fill="#10db87" d="M78 493h3v6h-3zM79 491h1v10h-1zM82 491h3v2h-3zM83 491h1v3h-1zM90 494h3v2h-3zM91 493h1v4h-1zM95 491h3v4h-3zM96 489h1v8h-1zM103 491h3v2h-3zM104 491h1v3h-1zM107 490h3v3h-3zM108 488h1v5h-1zM129 504h3v7h-3zM130 502h1v11h-1zM137 503h3v4h-3zM138 502h1v7h-1zM145 502h3v4h-3zM146 502h1v5h-1zM162 511h3v4h-3zM163 509h1v9h-1zM167 506h3v6h-3zM168 503h1v11h-1zM175 507h3v3h-3zM176 505h1v6h-1zM188 511h3v4h-3zM189 510h1v6h-1zM192 507h3v5h-3zM193 505h1v11h-1zM205 508h3v3h-3zM206 508h1v4h-1zM213 509h3v4h-3zM214 507h1v6h-1zM218 507h3v3h-3zM219 506h1v4h-1zM222 505h3v3h-3zM223 503h1v6h-1zM226 505h3v2h-3zM227 505h1v3h-1zM230 504h3v3h-3zM231 502h1v7h-1zM235 503h3v3h-3zM236 503h1v3h-1zM239 501h3v3h-3zM240 499h1v6h-1zM252 506h3v4h-3zM253 505h1v5h-1zM256 505h3v2h-3zM257 504h1v3h-1zM260 504h3v2h-3zM261 502h1v4h-1zM264 503h3v2h-3zM265 502h1v3h-1zM269 502h3v1h-3zM270 501h1v4h-1zM281 503h3v1h-3zM282 501h1v4h-1zM286 497h3v6h-3zM287 496h1v8h-1zM303 496h3v3h-3zM304 495h1v6h-1zM307 495h3v4h-3zM308 495h1v5h-1zM311 495h3v2h-3zM312 493h1v5h-1zM315 494h3v2h-3zM316 492h1v6h-1zM336 504h3v7h-3zM337 503h1v10h-1zM345 505h3v5h-3zM346 504h1v8h-1zM349 506h3v4h-3zM350 505h1v6h-1zM353 505h3v4h-3zM354 505h1v7h-1zM358 503h3v2h-3zM359 503h1v3h-1zM366 506h3v2h-3zM367 505h1v5h-1zM379 511h3v4h-3zM380 510h1v7h-1zM387 512h3v4h-3zM388 510h1v8h-1zM392 513h3v2h-3zM393 511h1v4h-1zM396 509h3v4h-3zM397 508h1v6h-1zM400 502h3v6h-3zM401 501h1v9h-1zM413 510h3v2h-3zM414 509h1v5h-1zM417 506h3v4h-3zM418 505h1v6h-1zM426 507h3v3h-3zM427 506h1v6h-1zM434 507h3v1h-3zM435 507h1v3h-1zM438 507h3v1h-3zM439 506h1v4h-1zM447 508h3v4h-3zM448 508h1v5h-1zM455 507h3v3h-3zM456 507h1v4h-1zM460 506h3v2h-3zM461 505h1v4h-1zM464 506h3v1h-3zM465 504h1v4h-1zM477 505h3v1h-3zM478 503h1v5h-1zM481 503h3v3h-3zM482 502h1v6h-1zM502 510h3v5h-3zM503 509h1v8h-1zM506 510h3v3h-3zM507 510h1v5h-1zM511 507h3v3h-3zM512 505h1v6h-1zM515 499h3v9h-3zM516 499h1v11h-1zM523 500h3v2h-3zM524 499h1v4h-1zM528 498h3v3h-3zM529 498h1v4h-1zM549 495h3v8h-3zM550 495h1v8h-1zM553 492h3v4h-3zM554 490h1v7h-1zM557 486h3v7h-3zM558 485h1v9h-1zM561 481h3v6h-3zM562 480h1v8h-1zM566 477h3v8h-3zM567 475h1v11h-1zM570 458h3v23h-3zM571 456h1v25h-1zM583 469h3v12h-3zM584 468h1v13h-1zM587 466h3v7h-3zM588 464h1v11h-1zM591 459h3v8h-3zM592 459h1v10h-1zM604 467h3v4h-3zM605 467h1v5h-1zM608 468h3v2h-3zM609 467h1v5h-1zM612 459h3v9h-3zM613 457h1v12h-1zM629 464h3v3h-3zM630 463h1v6h-1zM638 465h3v2h-3zM639 463h1v5h-1zM642 460h3v6h-3zM643 458h1v8h-1zM646 442h3v19h-3zM647 440h1v22h-1zM655 438h3v13h-3zM656 437h1v16h-1zM663 436h3v4h-3zM664 435h1v5h-1zM676 441h3v3h-3zM677 440h1v6h-1zM680 441h3v2h-3zM681 439h1v5h-1zM689 440h3v7h-3zM690 439h1v10h-1zM693 436h3v5h-3zM694 435h1v8h-1zM714 437h3v13h-3zM715 436h1v16h-1zM719 427h3v12h-3zM720 420h1v19h-1zM731 438h3v5h-3zM732 438h1v6h-1zM736 430h3v14h-3zM737 430h1v20h-1zM740 419h3v14h-3zM741 417h1v18h-1zM744 407h3v14h-3zM745 405h1v16h-1zM748 399h3v9h-3zM749 394h1v16h-1zM769 411h3v5h-3zM770 409h1v8h-1zM782 406h3v9h-3zM783 405h1v12h-1zM791 407h3v3h-3zM792 406h1v6h-1zM795 402h3v8h-3zM796 400h1v10h-1zM803 401h3v5h-3zM804 399h1v8h-1zM816 402h3v8h-3zM817 400h1v10h-1zM820 397h3v7h-3zM821 396h1v9h-1zM837 400h3v6h-3zM838 400h1v6h-1zM846 402h3v3h-3zM847 402h1v5h-1zM850 402h3v2h-3zM851 401h1v3h-1zM854 394h3v9h-3zM855 394h1v11h-1zM863 397h3v4h-3zM864 397h1v5h-1zM867 396h3v3h-3zM868 395h1v5h-1zM884 407h3v3h-3zM885 407h1v3h-1zM893 397h3v14h-3zM894 396h1v17h-1zM897 394h3v4h-3zM898 392h1v8h-1zM922 405h3v3h-3zM923 403h1v7h-1zM927 402h3v4h-3zM928 401h1v7h-1zM931 400h3v3h-3zM932 399h1v5h-1zM948 408h3v2h-3zM949 407h1v4h-1zM952 408h3v2h-3zM953 407h1v4h-1zM956 394h3v14h-3zM957 393h1v16h-1zM960 399h3v7h-3zM961 398h1v10h-1zM965 396h3v5h-3zM966 394h1v8h-1zM969 394h3v4h-3zM970 393h1v6h-1zM990 419h3v12h-3zM991 418h1v18h-1zM994 419h3v12h-3zM995 417h1v14h-1zM1007 424h3v7h-3zM1008 422h1v9h-1zM1020 426h3v9h-3zM1021 424h1v12h-1zM1024 421h3v6h-3zM1025 420h1v8h-1zM1028 422h3v2h-3zM1029 421h1v5h-1zM1033 414h3v9h-3zM1034 413h1v11h-1zM1037 408h3v7h-3zM1038 407h1v9h-1zM1045 408h3v6h-3zM1046 406h1v8h-1zM1058 415h3v7h-3zM1059 414h1v10h-1zM1062 414h3v4h-3zM1063 413h1v5h-1zM1067 410h3v9h-3zM1068 410h1v10h-1zM1071 408h3v5h-3zM1072 407h1v7h-1zM1075 401h3v11h-3zM1076 401h1v12h-1zM1084 402h3v6h-3zM1085 401h1v8h-1zM1105 416h3v6h-3zM1106 414h1v12h-1zM1113 416h3v6h-3zM1114 416h1v7h-1zM1118 414h3v4h-3zM1119 413h1v7h-1zM1122 405h3v11h-3zM1123 404h1v14h-1zM1126 403h3v4h-3zM1127 402h1v6h-1zM1130 401h3v4h-3zM1131 400h1v7h-1zM1135 402h3v5h-3zM1136 400h1v9h-1zM1156 404h3v12h-3zM1157 403h1v19h-1zM1160 400h3v5h-3zM1161 399h1v7h-1zM1164 388h3v14h-3zM1165 372h1v31h-1zM1177 402h3v4h-3zM1178 400h1v18h-1zM1181 398h3v6h-3zM1182 396h1v9h-1zM1185 388h3v10h-3zM1186 379h1v20h-1zM1194 384h3v8h-3zM1195 382h1v11h-1zM1232 418h3v7h-3zM1233 417h1v12h-1zM1258 425h3v8h-3zM1259 424h1v9h-1zM1279 428h3v8h-3zM1280 428h1v9h-1zM1283 426h3v5h-3zM1284 425h1v7h-1zM1292 429h3v3h-3zM1293 428h1v6h-1z"/>
<path fill="#fe5860" d="M73 494h3v5h-3zM74 493h1v6h-1zM86 491h3v5h-3zM87 489h1v9h-1zM99 491h3v2h-3zM100 489h1v5h-1zM112 490h3v3h-3zM113 489h1v5h-1zM116 492h3v13h-3zM117 492h1v14h-1zM120 503h3v7h-3zM121 503h1v9h-1zM124 505h3v5h-3zM125 503h1v9h-1zM133 504h3v3h-3zM134 502h1v7h-1zM141 503h3v4h-3zM142 503h1v9h-1zM150 502h3v4h-3zM151 500h1v7h-1zM154 505h3v5h-3zM155 504h1v8h-1zM158 509h3v5h-3zM159 507h1v9h-1zM171 506h3v4h-3zM172 503h1v8h-1zM179 507h3v8h-3zM180 506h1v11h-1zM184 514h3v2h-3zM185 513h1v5h-1zM196 507h3v4h-3zM197 507h1v4h-1zM201 508h3v3h-3zM202 507h1v5h-1zM209 508h3v6h-3zM210 506h1v10h-1zM243 502h3v1h-3zM244 500h1v4h-1zM247 502h3v8h-3zM248 501h1v15h-1zM273 502h3v2h-3zM274 500h1v5h-1zM277 502h3v2h-3zM278 501h1v4h-1zM290 497h3v2h-3zM291 495h1v6h-1zM294 496h3v3h-3zM295 494h1v6h-1zM298 496h3v2h-3zM299 494h1v4h-1zM320 494h3v2h-3zM321 493h1v5h-1zM324 495h3v3h-3zM325 494h1v4h-1zM328 497h3v7h-3zM329 495h1v10h-1zM332 503h3v9h-3zM333 503h1v11h-1zM341 504h3v7h-3zM342 503h1v9h-1zM362 504h3v4h-3zM363 503h1v7h-1zM370 507h3v2h-3zM371 506h1v4h-1zM375 508h3v6h-3zM376 507h1v9h-1zM383 510h3v8h-3zM384 509h1v12h-1zM404 502h3v6h-3zM405 502h1v8h-1zM409 507h3v5h-3zM410 507h1v6h-1zM421 505h3v6h-3zM422 504h1v8h-1zM430 507h3v2h-3zM431 507h1v3h-1zM443 506h3v6h-3zM444 505h1v8h-1zM451 509h3v1h-3zM452 508h1v4h-1zM468 504h3v4h-3zM469 502h1v8h-1zM472 505h3v2h-3zM473 504h1v5h-1zM485 502h3v4h-3zM486 501h1v7h-1zM489 504h3v2h-3zM490 502h1v6h-1zM494 506h3v8h-3zM495 506h1v10h-1zM498 513h3v2h-3zM499 512h1v5h-1zM519 498h3v4h-3zM520 497h1v6h-1zM532 498h3v3h-3zM533 498h1v4h-1zM536 497h3v4h-3zM537 494h1v7h-1zM540 499h3v3h-3zM541 499h1v3h-1zM544 501h3v2h-3zM545 500h1v5h-1zM574 458h3v15h-3zM575 454h1v21h-1zM578 471h3v11h-3zM579 471h1v12h-1zM595 460h3v5h-3zM596 451h1v14h-1zM600 461h3v10h-3zM601 460h1v11h-1zM617 458h3v7h-3zM618 456h1v9h-1zM621 464h3v6h-3zM622 462h1v10h-1zM625 464h3v4h-3zM626 461h1v9h-1zM634 464h3v2h-3zM635 461h1v5h-1zM651 441h3v8h-3zM652 440h1v10h-1zM659 437h3v4h-3zM660 437h1v5h-1zM668 436h3v8h-3zM669 430h1v16h-1zM672 441h3v4h-3zM673 439h1v6h-1zM685 440h3v7h-3zM686 439h1v8h-1zM697 437h3v11h-3zM698 436h1v13h-1zM702 442h3v6h-3zM703 441h1v14h-1zM706 444h3v4h-3zM707 439h1v10h-1zM710 447h3v4h-3zM711 446h1v7h-1zM723 430h3v10h-3zM724 429h1v12h-1zM727 438h3v5h-3zM728 438h1v7h-1zM752 397h3v9h-3zM753 390h1v17h-1zM757 398h3v9h-3zM758 398h1v11h-1zM761 404h3v9h-3zM762 402h1v12h-1zM765 410h3v5h-3zM766 408h1v9h-1zM774 408h3v6h-3zM775 407h1v7h-1zM778 411h3v4h-3zM779 408h1v8h-1zM786 400h3v10h-3zM787 400h1v12h-1zM799 402h3v5h-3zM800 402h1v7h-1zM808 404h3v6h-3zM809 402h1v8h-1zM812 408h3v2h-3zM813 406h1v5h-1zM825 396h3v8h-3zM826 395h1v11h-1zM829 402h3v4h-3zM830 401h1v6h-1zM833 402h3v3h-3zM834 400h1v5h-1zM842 400h3v8h-3zM843 398h1v11h-1zM859 394h3v7h-3zM860 393h1v9h-1zM871 394h3v8h-3zM872 393h1v9h-1zM876 400h3v3h-3zM877 400h1v3h-1zM880 401h3v9h-3zM881 400h1v11h-1zM888 406h3v4h-3zM889 405h1v5h-1zM901 394h3v3h-3zM902 392h1v7h-1zM905 397h3v4h-3zM906 395h1v7h-1zM910 399h3v5h-3zM911 397h1v7h-1zM914 403h3v4h-3zM915 401h1v7h-1zM918 405h3v3h-3zM919 403h1v6h-1zM935 400h3v4h-3zM936 400h1v6h-1zM939 402h3v8h-3zM940 400h1v12h-1zM944 407h3v3h-3zM945 406h1v5h-1zM973 394h3v8h-3zM974 393h1v10h-1zM977 400h3v4h-3zM978 398h1v8h-1zM982 402h3v15h-3zM983 402h1v16h-1zM986 415h3v20h-3zM987 414h1v22h-1zM999 417h3v8h-3zM1000 415h1v12h-1zM1003 422h3v9h-3zM1004 421h1v16h-1zM1011 424h3v7h-3zM1012 422h1v9h-1zM1016 423h3v8h-3zM1017 421h1v10h-1zM1041 408h3v7h-3zM1042 404h1v12h-1zM1050 409h3v3h-3zM1051 408h1v5h-1zM1054 408h3v13h-3zM1055 408h1v14h-1zM1079 402h3v5h-3zM1080 400h1v9h-1zM1088 402h3v10h-3zM1089 400h1v13h-1zM1092 407h3v12h-3zM1093 405h1v16h-1zM1096 415h3v4h-3zM1097 413h1v7h-1zM1101 417h3v2h-3zM1102 416h1v5h-1zM1109 413h3v10h-3zM1110 412h1v12h-1zM1139 402h3v8h-3zM1140 400h1v10h-1zM1143 406h3v6h-3zM1144 405h1v7h-1zM1147 409h3v7h-3zM1148 407h1v11h-1zM1151 414h3v3h-3zM1152 413h1v6h-1zM1168 388h3v14h-3zM1169 386h1v16h-1zM1173 391h3v16h-3zM1174 391h1v17h-1zM1190 387h3v7h-3zM1191 385h1v11h-1zM1198 384h3v6h-3zM1199 381h1v9h-1zM1202 387h3v11h-3zM1203 387h1v12h-1zM1207 394h3v4h-3zM1208 392h1v7h-1zM1211 395h3v9h-3zM1212 395h1v10h-1zM1215 402h3v6h-3zM1216 400h1v10h-1zM1219 407h3v5h-3zM1220 407h1v6h-1zM1224 410h3v4h-3zM1225 410h1v6h-1zM1228 413h3v11h-3zM1229 411h1v14h-1zM1236 418h3v7h-3zM1237 417h1v10h-1zM1241 422h3v4h-3zM1242 420h1v6h-1zM1245 425h3v10h-3zM1246 423h1v14h-1zM1249 428h3v4h-3zM1250 428h1v5h-1zM1253 429h3v3h-3zM1254 428h1v4h-1zM1262 426h3v2h-3zM1263 425h1v4h-1zM1266 426h3v4h-3zM1267 424h1v8h-1zM1270 426h3v9h-3zM1271 425h1v11h-1zM1275 433h3v4h-3zM1276 431h1v7h-1zM1287 429h3v5h-3zM1288 428h1v8h-1z"/>
</g>
<g fill="#918799">
<path d="M1189.6 680.4L1191.2 682.3Q1194.5 681.6 1197.9 682.3L1199.5 680.4L1200.6 683.2Q1203.5 685 1205.9 687Q1204.6 689.2 1202.6 688.8Q1203.4 693 1201.6 696Q1203 698 1202 700.5L1200.2 701.2L1200 704.6L1196.3 704.6L1196.2 702.3L1194.9 702.3L1194.8 704.6L1190.1 704.6L1190 701.2L1188.2 700.5Q1187 698 1188.6 696Q1186.4 693 1187.2 688.8Q1185 689.2 1183.2 686.8Q1186 685 1188.6 683.2Z"/>
<text x="1211.3" y="697.8" font-size="16.2" stroke="#918799" stroke-width="0.35" textLength="71.4" lengthAdjust="spacingAndGlyphs">coinglass</text>
</g>
<text x="1303.7" y="142.1" font-size="11.3" fill="#1f2228" textLength="38.2" lengthAdjust="spacingAndGlyphs">116976</text>
<text x="1303.7" y="190.1" font-size="11.3" fill="#1f2228" textLength="38.2" lengthAdjust="spacingAndGlyphs">115000</text>
<text x="1303.7" y="312.1" font-size="11.3" fill="#1f2228" textLength="38.2" lengthAdjust="spacingAndGlyphs">110000</text>
<text x="1303.7" y="434.1" font-size="11.3" fill="#1f2228" textLength="38.2" lengthAdjust="spacingAndGlyphs">105000</text>
<text x="1303.7" y="556.1" font-size="11.3" fill="#1f2228" textLength="38.2" lengthAdjust="spacingAndGlyphs">100000</text>
<text x="1303.7" y="678.1" font-size="11.3" fill="#1f2228" textLength="31.8" lengthAdjust="spacingAndGlyphs">95000</text>
<text x="1303.7" y="732.1" font-size="11.3" fill="#1f2228" textLength="31.8" lengthAdjust="spacingAndGlyphs">92754</text>
<text x="51.32" y="745" font-size="11.3" fill="#1f2228" textLength="47.6" lengthAdjust="spacingAndGlyphs">08, 14:30</text>
<text x="114.99" y="745" font-size="11.3" fill="#1f2228" textLength="47.6" lengthAdjust="spacingAndGlyphs">08, 18:15</text>
<text x="178.67" y="745" font-size="11.3" fill="#1f2228" textLength="47.6" lengthAdjust="spacingAndGlyphs">08, 22:00</text>
<text x="242.34" y="745" font-size="11.3" fill="#1f2228" textLength="47.6" lengthAdjust="spacingAndGlyphs">09, 01:45</text>
<text x="306.01" y="745" font-size="11.3" fill="#1f2228" textLength="47.6" lengthAdjust="spacingAndGlyphs">09, 05:30</text>
<text x="369.68" y="745" font-size="11.3" fill="#1f2228" textLength="47.6" lengthAdjust="spacingAndGlyphs">09, 09:15</text>
<text x="433.35" y="745" font-size="11.3" fill="#1f2228" textLength="47.6" lengthAdjust="spacingAndGlyphs">09, 13:00</text>
<text x="497.03" y="745" font-size="11.3" fill="#1f2228" textLength="47.6" lengthAdjust="spacingAndGlyphs">09, 16:45</text>
<text x="560.7" y="745" font-size="11.3" fill="#1f2228" textLength="47.6" lengthAdjust="spacingAndGlyphs">09, 20:30</text>
<text x="624.37" y="745" font-size="11.3" fill="#1f2228" textLength="47.6" lengthAdjust="spacingAndGlyphs">10, 00:15</text>
<text x="688.04" y="745" font-size="11.3" fill="#1f2228" textLength="47.6" lengthAdjust="spacingAndGlyphs">10, 04:00</text>
<text x="751.71" y="745" font-size="11.3" fill="#1f2228" textLength="47.6" lengthAdjust="spacingAndGlyphs">10, 07:45</text>
<text x="815.38" y="745" font-size="11.3" fill="#1f2228" textLength="47.6" lengthAdjust="spacingAndGlyphs">10, 11:30</text>
<text x="879.06" y="745" font-size="11.3" fill="#1f2228" textLength="47.6" lengthAdjust="spacingAndGlyphs">10, 15:15</text>
<text x="942.73" y="745" font-size="11.3" fill="#1f2228" textLength="47.6" lengthAdjust="spacingAndGlyphs">10, 19:00</text>
<text x="1006.4" y="745" font-size="11.3" fill="#1f2228" textLength="47.6" lengthAdjust="spacingAndGlyphs">10, 22:45</text>
<text x="1070.07" y="745" font-size="11.3" fill="#1f2228" textLength="47.6" lengthAdjust="spacingAndGlyphs">11, 02:30</text>
<text x="1133.74" y="745" font-size="11.3" fill="#1f2228" textLength="47.6" lengthAdjust="spacingAndGlyphs">11, 06:15</text>
<text x="1197.42" y="745" font-size="11.3" fill="#1f2228" textLength="47.6" lengthAdjust="spacingAndGlyphs">11, 10:00</text>
<text x="1261.09" y="745" font-size="11.3" fill="#1f2228" textLength="47.6" lengthAdjust="spacingAndGlyphs">11, 13:45</text>
</svg></body></html>
